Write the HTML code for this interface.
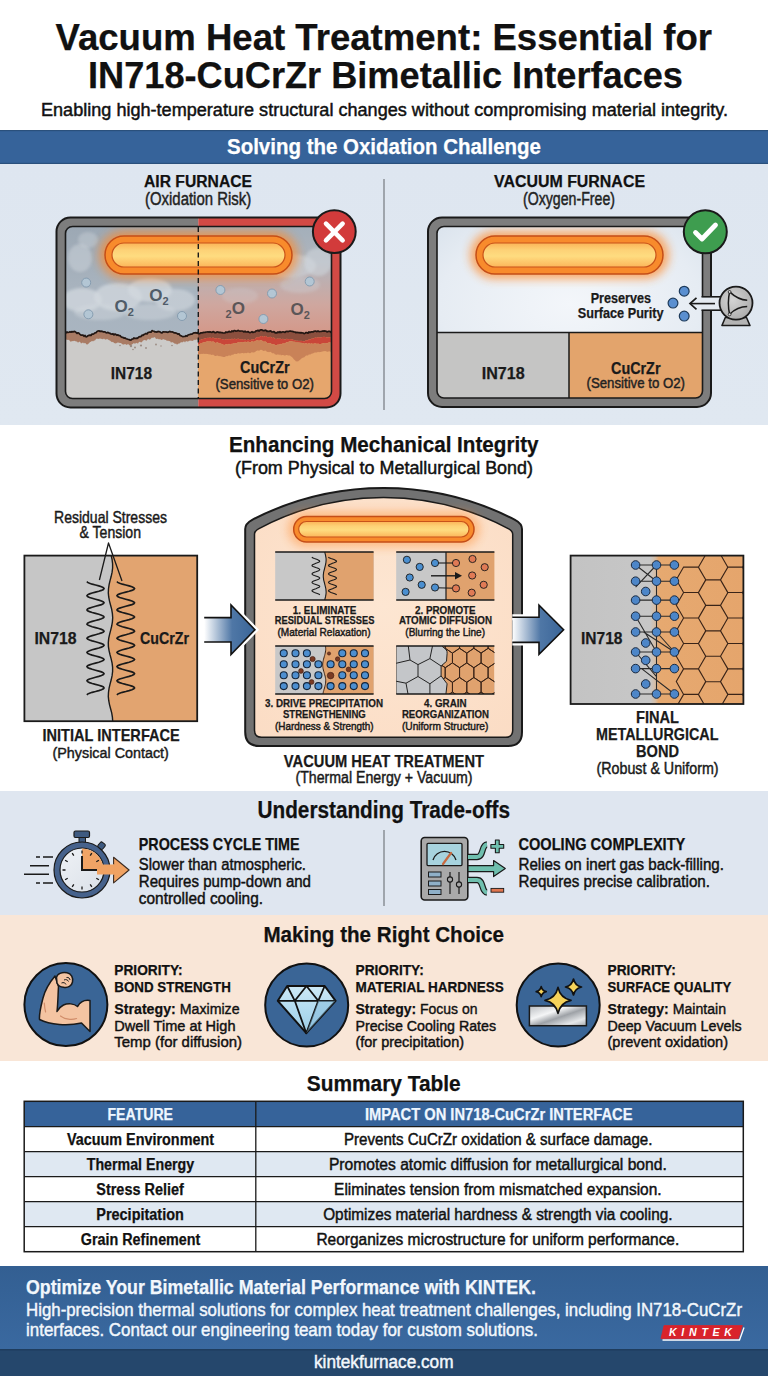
<!DOCTYPE html>
<html><head><meta charset="utf-8"><title>Vacuum Heat Treatment</title>
<style>html,body{margin:0;padding:0;background:#fff;}svg{display:block;}text{font-family:'Liberation Sans', sans-serif;}</style>
</head><body>
<svg width="768" height="1376" viewBox="0 0 768 1376">
<defs><linearGradient id="gS1" x1="0" y1="0" x2="0" y2="1"><stop offset="0" stop-color="#dee6f0"/><stop offset="1" stop-color="#e0e8f1"/></linearGradient><linearGradient id="gFoot" x1="0" y1="0" x2="0" y2="1"><stop offset="0" stop-color="#335f92"/><stop offset="1" stop-color="#3a69a0"/></linearGradient><filter id="blur6" x="-30%" y="-50%" width="160%" height="200%"><feGaussianBlur stdDeviation="5"/></filter><filter id="blur3" x="-30%" y="-50%" width="160%" height="200%"><feGaussianBlur stdDeviation="3"/></filter><filter id="blur2" x="-30%" y="-50%" width="160%" height="200%"><feGaussianBlur stdDeviation="1.5"/></filter><clipPath id="cpAirOuter"><rect x="56.5" y="217.5" width="284.0" height="190.0" rx="14"/></clipPath><clipPath id="cpAirIn"><rect x="65.5" y="226.5" width="266.0" height="172.0" rx="7"/></clipPath><linearGradient id="gAirL" x1="0" y1="0" x2="0" y2="1"><stop offset="0" stop-color="#9ca8b4"/><stop offset="0.5" stop-color="#a8b3be"/><stop offset="1" stop-color="#a9b5c1"/></linearGradient><linearGradient id="gAirR" x1="0" y1="0" x2="0" y2="1"><stop offset="0" stop-color="#a3afba"/><stop offset="0.3" stop-color="#b0b5bd"/><stop offset="0.65" stop-color="#cfa79f"/><stop offset="1" stop-color="#d6917f"/></linearGradient><linearGradient id="hga" x1="0" y1="0" x2="0" y2="1"><stop offset="0" stop-color="#fcb457"/><stop offset="0.3" stop-color="#fdd277"/><stop offset="0.55" stop-color="#fedc80"/><stop offset="1" stop-color="#fcb65a"/></linearGradient><radialGradient id="gVac" cx="0.5" cy="0.45" r="0.7"><stop offset="0" stop-color="#f3f6fa"/><stop offset="0.7" stop-color="#e6ecf3"/><stop offset="1" stop-color="#d9e2ec"/></radialGradient><clipPath id="cpVacIn"><rect x="437" y="226.5" width="265.5" height="171.5" rx="7"/></clipPath><linearGradient id="hgv" x1="0" y1="0" x2="0" y2="1"><stop offset="0" stop-color="#fcb457"/><stop offset="0.3" stop-color="#fdd277"/><stop offset="0.55" stop-color="#fedc80"/><stop offset="1" stop-color="#fcb65a"/></linearGradient><radialGradient id="gPump" cx="0.4" cy="0.4" r="0.7"><stop offset="0" stop-color="#d4d4d4"/><stop offset="1" stop-color="#a9a9a9"/></radialGradient><linearGradient id="gInitL" x1="0" y1="0" x2="1" y2="0"><stop offset="0" stop-color="#c3c3c3"/><stop offset="1" stop-color="#c9c9c9"/></linearGradient><radialGradient id="gCham" cx="0.5" cy="0.45" r="0.75"><stop offset="0" stop-color="#fde6d2"/><stop offset="1" stop-color="#fbdcc4"/></radialGradient><linearGradient id="hgc" x1="0" y1="0" x2="0" y2="1"><stop offset="0" stop-color="#fcb457"/><stop offset="0.3" stop-color="#fdd277"/><stop offset="0.55" stop-color="#fedc80"/><stop offset="1" stop-color="#fcb65a"/></linearGradient><clipPath id="cpP4"><rect x="396.2" y="646" width="98.19999999999999" height="48"/></clipPath><linearGradient id="gArr" x1="0" y1="0" x2="1" y2="0"><stop offset="0" stop-color="#ffffff"/><stop offset="0.55" stop-color="#4f77a6"/><stop offset="1" stop-color="#3a6598"/></linearGradient><linearGradient id="gFin" x1="0" y1="0" x2="1" y2="0"><stop offset="0" stop-color="#c3c3c3"/><stop offset="0.46" stop-color="#c7c7c7"/><stop offset="0.49" stop-color="#d6bea6"/><stop offset="0.51" stop-color="#e6a970"/><stop offset="1" stop-color="#e5a56c"/></linearGradient><clipPath id="cpFin"><rect x="570.6" y="555.6" width="172.79999999999995" height="148.39999999999998"/></clipPath><linearGradient id="gFinL" gradientUnits="userSpaceOnUse" x1="570.6" y1="0" x2="743.4" y2="0"><stop offset="0" stop-color="#c6c6c6"/><stop offset="0.42" stop-color="#c8c8c8"/><stop offset="0.52" stop-color="#dcb796"/><stop offset="0.6" stop-color="#e4a56d"/><stop offset="1" stop-color="#e3a46c"/></linearGradient><linearGradient id="gFace" x1="0" y1="0" x2="1" y2="1"><stop offset="0" stop-color="#f0f3f7"/><stop offset="1" stop-color="#d9dfe7"/></linearGradient><linearGradient id="gSwA" x1="0" y1="0" x2="1" y2="0"><stop offset="0" stop-color="#f2a662"/><stop offset="1" stop-color="#f0a060"/></linearGradient><linearGradient id="gDia" x1="0" y1="0" x2="0" y2="1"><stop offset="0" stop-color="#cde9f6"/><stop offset="0.5" stop-color="#b2dbef"/><stop offset="1" stop-color="#9dcde6"/></linearGradient><linearGradient id="gMetal" x1="0" y1="0" x2="1" y2="1"><stop offset="0" stop-color="#b9bcc0"/><stop offset="0.35" stop-color="#f4f5f6"/><stop offset="0.55" stop-color="#9ea2a7"/><stop offset="0.8" stop-color="#e6e8ea"/><stop offset="1" stop-color="#a8acb0"/></linearGradient></defs>
<rect x="0" y="0" width="768" height="1376" fill="#ffffff"/>
<rect x="0" y="130" width="768" height="34" fill="#36639a"/><rect x="0" y="130" width="768" height="1.2" fill="#2a507c"/><rect x="0" y="162.8" width="768" height="1.2" fill="#2a507c"/>
<rect x="0" y="164" width="768" height="261" fill="url(#gS1)"/>
<rect x="0" y="791" width="768" height="124" fill="#dfe6f0"/>
<rect x="0" y="915" width="768" height="146" fill="#f9e6d7"/>
<rect x="0" y="1266" width="768" height="83" fill="url(#gFoot)"/>
<rect x="0" y="1349" width="768" height="27" fill="#25476c"/><rect x="0" y="1349" width="768" height="1.5" fill="#1f3d5e"/>
<text x="55.5" y="49.5" font-size="36" font-weight="bold" fill="#111" stroke="#111" stroke-width="0.25" text-anchor="start" textLength="656.5" lengthAdjust="spacingAndGlyphs">Vacuum Heat Treatment: Essential for</text>
<text x="88.0" y="88.0" font-size="36" font-weight="bold" fill="#111" stroke="#111" stroke-width="0.25" text-anchor="start" textLength="595.0" lengthAdjust="spacingAndGlyphs">IN718-CuCrZr Bimetallic Interfaces</text>
<text x="41.0" y="115.5" font-size="17.5" font-weight="normal" fill="#111" stroke="#111" stroke-width="0.45" text-anchor="start" textLength="687.0" lengthAdjust="spacingAndGlyphs">Enabling high-temperature structural changes without compromising material integrity.</text>
<text x="227.0" y="154.0" font-size="21.8" font-weight="bold" fill="#ffffff" stroke="#ffffff" stroke-width="0.25" text-anchor="start" textLength="314.0" lengthAdjust="spacingAndGlyphs">Solving the Oxidation Challenge</text>
<text x="144.0" y="187.4" font-size="17.2" font-weight="bold" fill="#111" stroke="#111" stroke-width="0.25" text-anchor="start" textLength="108.0" lengthAdjust="spacingAndGlyphs">AIR FURNACE</text>
<text x="145.0" y="205.3" font-size="17.6" font-weight="normal" fill="#222" stroke="#222" stroke-width="0.45" text-anchor="start" textLength="106.2" lengthAdjust="spacingAndGlyphs">(Oxidation Risk)</text>
<text x="494.0" y="187.4" font-size="17.2" font-weight="bold" fill="#111" stroke="#111" stroke-width="0.25" text-anchor="start" textLength="151.0" lengthAdjust="spacingAndGlyphs">VACUUM FURNACE</text>
<text x="523.0" y="205.3" font-size="17.6" font-weight="normal" fill="#222" stroke="#222" stroke-width="0.45" text-anchor="start" textLength="92.0" lengthAdjust="spacingAndGlyphs">(Oxygen-Free)</text>
<line x1="384" y1="179" x2="384" y2="410" stroke="#8a8f96" stroke-width="1.5"/>
<g clip-path="url(#cpAirOuter)"><rect x="56.5" y="217.5" width="141.8" height="190.0" fill="#7d7d7d"/><rect x="198.3" y="217.5" width="142.2" height="190.0" fill="#d24a45"/></g>
<rect x="56.5" y="217.5" width="284.0" height="190.0" rx="14" fill="none" stroke="#1a1a1a" stroke-width="2"/>
<g clip-path="url(#cpAirIn)">
<rect x="65.5" y="226.5" width="132.8" height="120" fill="url(#gAirL)"/>
<rect x="198.3" y="226.5" width="133.2" height="120" fill="url(#gAirR)"/>
<ellipse cx="82" cy="300" rx="20" ry="12" fill="#d3d9df" opacity="0.75" filter="url(#blur2)"/>
<ellipse cx="118" cy="297" rx="24" ry="14" fill="#d3d9df" opacity="0.75" filter="url(#blur2)"/>
<ellipse cx="150" cy="290" rx="22" ry="12" fill="#d3d9df" opacity="0.75" filter="url(#blur2)"/>
<ellipse cx="175" cy="300" rx="20" ry="11" fill="#d3d9df" opacity="0.6000000000000001" filter="url(#blur2)"/>
<ellipse cx="100" cy="312" rx="26" ry="8" fill="#d3d9df" opacity="0.44999999999999996" filter="url(#blur2)"/>
<ellipse cx="150" cy="312" rx="26" ry="8" fill="#d3d9df" opacity="0.44999999999999996" filter="url(#blur2)"/>
<ellipse cx="80" cy="258" rx="12" ry="14" fill="#d3d9df" opacity="0.44999999999999996" filter="url(#blur2)"/>
<ellipse cx="88" cy="240" rx="10" ry="8" fill="#d3d9df" opacity="0.375" filter="url(#blur2)"/>
<ellipse cx="290" cy="266" rx="26" ry="12" fill="#d3d9df" opacity="0.5249999999999999" filter="url(#blur2)"/>
<ellipse cx="318" cy="262" rx="14" ry="14" fill="#d3d9df" opacity="0.5249999999999999" filter="url(#blur2)"/>
<ellipse cx="300" cy="285" rx="20" ry="8" fill="#d3d9df" opacity="0.30000000000000004" filter="url(#blur2)"/>
<ellipse cx="240" cy="296" rx="18" ry="8" fill="#d3d9df" opacity="0.22499999999999998" filter="url(#blur2)"/>
<path d="M64.0,333.5 L65.0,333.1 L66.0,333.8 L67.0,332.9 L68.0,333.5 L69.0,333.2 L70.0,332.7 L71.0,333.2 L72.0,332.5 L73.0,333.0 L74.0,332.4 L75.0,332.6 L76.0,333.4 L77.0,334.4 L78.0,333.8 L79.0,334.3 L80.0,335.3 L81.0,336.1 L82.0,336.0 L83.0,336.1 L84.0,337.3 L85.0,336.4 L86.0,337.9 L87.0,337.5 L88.0,336.8 L89.0,336.3 L90.0,336.1 L91.0,336.4 L92.0,335.0 L93.0,335.1 L94.0,334.7 L95.0,333.9 L96.0,333.7 L97.0,332.5 L98.0,332.0 L99.0,331.8 L100.0,332.4 L101.0,332.2 L102.0,332.3 L103.0,332.8 L104.0,332.8 L105.0,332.8 L106.0,333.7 L107.0,333.8 L108.0,333.4 L109.0,334.1 L110.0,334.3 L111.0,335.0 L112.0,335.1 L113.0,334.7 L114.0,335.9 L115.0,335.0 L116.0,335.6 L117.0,336.3 L118.0,335.9 L119.0,336.7 L120.0,336.5 L121.0,337.7 L122.0,338.3 L123.0,338.4 L124.0,339.2 L125.0,338.8 L126.0,339.7 L127.0,340.0 L128.0,340.3 L129.0,340.5 L130.0,341.1 L131.0,341.0 L132.0,340.1 L133.0,340.0 L134.0,338.9 L135.0,339.5 L136.0,339.2 L137.0,339.4 L138.0,338.8 L139.0,337.8 L140.0,337.7 L141.0,337.6 L142.0,336.2 L143.0,336.4 L144.0,335.5 L145.0,335.0 L146.0,334.4 L147.0,334.9 L148.0,333.6 L149.0,333.3 L150.0,333.0 L151.0,333.2 L152.0,331.6 L153.0,332.0 L154.0,332.3 L155.0,332.9 L156.0,332.9 L157.0,333.1 L158.0,332.4 L159.0,332.7 L160.0,332.8 L161.0,333.7 L162.0,333.9 L163.0,332.9 L164.0,332.9 L165.0,333.0 L166.0,332.9 L167.0,333.2 L168.0,333.3 L169.0,332.8 L170.0,332.4 L171.0,333.0 L172.0,332.9 L173.0,333.1 L174.0,333.8 L175.0,333.8 L176.0,334.1 L177.0,334.6 L178.0,335.2 L179.0,334.8 L180.0,336.4 L181.0,336.7 L182.0,337.2 L183.0,337.6 L184.0,337.5 L185.0,337.5 L186.0,336.7 L187.0,337.1 L188.0,336.0 L189.0,335.7 L190.0,335.5 L191.0,335.1 L192.0,335.1 L193.0,334.3 L194.0,333.9 L195.0,333.8 L196.0,333.7 L197.0,334.1 L198.0,333.6 L199.0,334.8 L199,400 L64,400 Z" fill="#cccbc9"/>
<path d="M64.0,332.5 L65.0,332.1 L66.0,332.8 L67.0,331.9 L68.0,332.5 L69.0,332.2 L70.0,331.7 L71.0,332.2 L72.0,331.5 L73.0,332.0 L74.0,331.4 L75.0,331.6 L76.0,332.4 L77.0,333.4 L78.0,332.8 L79.0,333.3 L80.0,334.3 L81.0,335.1 L82.0,335.0 L83.0,335.1 L84.0,336.3 L85.0,335.4 L86.0,336.9 L87.0,336.5 L88.0,335.8 L89.0,335.3 L90.0,335.1 L91.0,335.4 L92.0,334.0 L93.0,334.1 L94.0,333.7 L95.0,332.9 L96.0,332.7 L97.0,331.5 L98.0,331.0 L99.0,330.8 L100.0,331.4 L101.0,331.2 L102.0,331.3 L103.0,331.8 L104.0,331.8 L105.0,331.8 L106.0,332.7 L107.0,332.8 L108.0,332.4 L109.0,333.1 L110.0,333.3 L111.0,334.0 L112.0,334.1 L113.0,333.7 L114.0,334.9 L115.0,334.0 L116.0,334.6 L117.0,335.3 L118.0,334.9 L119.0,335.7 L120.0,335.5 L121.0,336.7 L122.0,337.3 L123.0,337.4 L124.0,338.2 L125.0,337.8 L126.0,338.7 L127.0,339.0 L128.0,339.3 L129.0,339.5 L130.0,340.1 L131.0,340.0 L132.0,339.1 L133.0,339.0 L134.0,337.9 L135.0,338.5 L136.0,338.2 L137.0,338.4 L138.0,337.8 L139.0,336.8 L140.0,336.7 L141.0,336.6 L142.0,335.2 L143.0,335.4 L144.0,334.5 L145.0,334.0 L146.0,333.4 L147.0,333.9 L148.0,332.6 L149.0,332.3 L150.0,332.0 L151.0,332.2 L152.0,330.6 L153.0,331.0 L154.0,331.3 L155.0,331.9 L156.0,331.9 L157.0,332.1 L158.0,331.4 L159.0,331.7 L160.0,331.8 L161.0,332.7 L162.0,332.9 L163.0,331.9 L164.0,331.9 L165.0,332.0 L166.0,331.9 L167.0,332.2 L168.0,332.3 L169.0,331.8 L170.0,331.4 L171.0,332.0 L172.0,331.9 L173.0,332.1 L174.0,332.8 L175.0,332.8 L176.0,333.1 L177.0,333.6 L178.0,334.2 L179.0,333.8 L180.0,335.4 L181.0,335.7 L182.0,336.2 L183.0,336.6 L184.0,336.5 L185.0,336.5 L186.0,335.7 L187.0,336.1 L188.0,335.0 L189.0,334.7 L190.0,334.5 L191.0,334.1 L192.0,334.1 L193.0,333.3 L194.0,332.9 L195.0,332.8 L196.0,332.7 L197.0,333.1 L198.0,332.6 L199.0,333.8 L199.0,339.5 L198.0,340.1 L197.0,339.4 L196.0,339.5 L195.0,340.2 L194.0,339.6 L193.0,340.9 L192.0,340.7 L191.0,340.8 L190.0,340.6 L189.0,341.1 L188.0,341.6 L187.0,341.4 L186.0,341.1 L185.0,342.5 L184.0,341.3 L183.0,341.9 L182.0,342.6 L181.0,342.1 L180.0,343.2 L179.0,343.5 L178.0,343.7 L177.0,344.7 L176.0,343.4 L175.0,344.0 L174.0,343.1 L173.0,342.6 L172.0,342.1 L171.0,342.8 L170.0,341.0 L169.0,341.2 L168.0,340.6 L167.0,340.9 L166.0,340.0 L165.0,339.8 L164.0,339.4 L163.0,339.0 L162.0,339.9 L161.0,339.8 L160.0,338.9 L159.0,339.6 L158.0,338.7 L157.0,338.7 L156.0,339.1 L155.0,337.3 L154.0,337.3 L153.0,337.9 L152.0,337.6 L151.0,338.5 L150.0,339.5 L149.0,339.6 L148.0,338.7 L147.0,340.3 L146.0,340.8 L145.0,339.8 L144.0,340.2 L143.0,340.6 L142.0,341.9 L141.0,342.5 L140.0,341.8 L139.0,342.1 L138.0,343.4 L137.0,343.3 L136.0,342.8 L135.0,343.9 L134.0,343.0 L133.0,343.8 L132.0,344.6 L131.0,344.9 L130.0,345.4 L129.0,345.0 L128.0,343.8 L127.0,345.0 L126.0,344.6 L125.0,344.1 L124.0,344.6 L123.0,344.6 L122.0,343.9 L121.0,343.0 L120.0,342.9 L119.0,342.8 L118.0,342.6 L117.0,342.8 L116.0,343.5 L115.0,343.3 L114.0,342.9 L113.0,341.7 L112.0,342.3 L111.0,341.5 L110.0,340.5 L109.0,340.2 L108.0,339.4 L107.0,339.1 L106.0,339.4 L105.0,339.4 L104.0,338.6 L103.0,339.2 L102.0,339.1 L101.0,338.7 L100.0,338.5 L99.0,338.8 L98.0,339.0 L97.0,338.4 L96.0,339.1 L95.0,340.4 L94.0,340.5 L93.0,341.4 L92.0,340.8 L91.0,341.7 L90.0,342.0 L89.0,343.3 L88.0,344.1 L87.0,344.8 L86.0,343.8 L85.0,342.7 L84.0,343.4 L83.0,342.5 L82.0,343.0 L81.0,343.6 L80.0,341.7 L79.0,341.8 L78.0,342.8 L77.0,341.6 L76.0,341.5 L75.0,340.9 L74.0,340.7 L73.0,341.2 L72.0,341.0 L71.0,341.7 L70.0,341.3 L69.0,339.8 L68.0,340.0 L67.0,339.8 L66.0,339.4 L65.0,339.1 L64.0,339.7 Z" fill="#a97b64"/>
<circle cx="131" cy="346" r="1.2" fill="#8d7a70" opacity="0.8"/>
<circle cx="135" cy="347.5" r="1" fill="#8d7a70" opacity="0.8"/>
<circle cx="141" cy="345.5" r="1.1" fill="#8d7a70" opacity="0.8"/>
<circle cx="146" cy="348" r="0.9" fill="#8d7a70" opacity="0.8"/>
<circle cx="133" cy="349.5" r="0.8" fill="#8d7a70" opacity="0.8"/>
<circle cx="120" cy="345.5" r="0.8" fill="#8d7a70" opacity="0.8"/>
<circle cx="156" cy="344.5" r="0.9" fill="#8d7a70" opacity="0.8"/>
<circle cx="161" cy="346" r="0.7" fill="#8d7a70" opacity="0.8"/>
<circle cx="172" cy="345.5" r="0.8" fill="#8d7a70" opacity="0.8"/>
<path d="M198.0,334.4 L199.0,334.5 L200.0,334.5 L201.0,333.8 L202.0,333.8 L203.0,333.6 L204.0,333.4 L205.0,333.5 L206.0,333.0 L207.0,333.0 L208.0,332.8 L209.0,333.2 L210.0,332.7 L211.0,333.1 L212.0,333.3 L213.0,332.6 L214.0,333.1 L215.0,333.7 L216.0,333.7 L217.0,332.9 L218.0,333.0 L219.0,333.6 L220.0,333.2 L221.0,333.6 L222.0,333.5 L223.0,334.0 L224.0,334.0 L225.0,333.9 L226.0,332.9 L227.0,333.4 L228.0,333.1 L229.0,332.3 L230.0,333.0 L231.0,333.0 L232.0,331.9 L233.0,332.6 L234.0,331.7 L235.0,331.7 L236.0,332.1 L237.0,332.0 L238.0,331.4 L239.0,331.8 L240.0,332.1 L241.0,332.0 L242.0,332.0 L243.0,332.3 L244.0,332.9 L245.0,332.2 L246.0,333.0 L247.0,333.0 L248.0,332.6 L249.0,333.2 L250.0,333.6 L251.0,333.3 L252.0,332.6 L253.0,333.5 L254.0,333.0 L255.0,333.0 L256.0,331.8 L257.0,331.8 L258.0,331.3 L259.0,332.0 L260.0,331.1 L261.0,330.8 L262.0,330.9 L263.0,331.7 L264.0,331.7 L265.0,331.2 L266.0,331.3 L267.0,332.4 L268.0,332.2 L269.0,332.5 L270.0,331.9 L271.0,332.1 L272.0,333.0 L273.0,332.9 L274.0,332.6 L275.0,333.8 L276.0,333.7 L277.0,333.8 L278.0,332.9 L279.0,333.7 L280.0,332.7 L281.0,333.6 L282.0,333.0 L283.0,332.8 L284.0,333.0 L285.0,333.4 L286.0,332.5 L287.0,332.3 L288.0,332.7 L289.0,332.3 L290.0,332.0 L291.0,332.2 L292.0,332.3 L293.0,332.6 L294.0,332.9 L295.0,333.0 L296.0,333.7 L297.0,333.3 L298.0,333.7 L299.0,333.5 L300.0,333.9 L301.0,333.6 L302.0,334.0 L303.0,333.9 L304.0,334.6 L305.0,334.2 L306.0,333.6 L307.0,333.7 L308.0,334.1 L309.0,332.9 L310.0,333.5 L311.0,332.9 L312.0,332.8 L313.0,333.0 L314.0,332.3 L315.0,332.2 L316.0,332.2 L317.0,332.6 L318.0,331.9 L319.0,332.6 L320.0,332.5 L321.0,332.5 L322.0,332.2 L323.0,332.2 L324.0,331.9 L325.0,332.1 L326.0,332.1 L327.0,332.9 L328.0,332.4 L329.0,332.4 L330.0,332.3 L331.0,333.3 L332.0,333.4 L333.0,333.2 L334,400 L198,400 Z" fill="#e6a66d"/>
<path d="M198.0,333.4 L199.0,333.5 L200.0,333.5 L201.0,332.8 L202.0,332.8 L203.0,332.6 L204.0,332.4 L205.0,332.5 L206.0,332.0 L207.0,332.0 L208.0,331.8 L209.0,332.2 L210.0,331.7 L211.0,332.1 L212.0,332.3 L213.0,331.6 L214.0,332.1 L215.0,332.7 L216.0,332.7 L217.0,331.9 L218.0,332.0 L219.0,332.6 L220.0,332.2 L221.0,332.6 L222.0,332.5 L223.0,333.0 L224.0,333.0 L225.0,332.9 L226.0,331.9 L227.0,332.4 L228.0,332.1 L229.0,331.3 L230.0,332.0 L231.0,332.0 L232.0,330.9 L233.0,331.6 L234.0,330.7 L235.0,330.7 L236.0,331.1 L237.0,331.0 L238.0,330.4 L239.0,330.8 L240.0,331.1 L241.0,331.0 L242.0,331.0 L243.0,331.3 L244.0,331.9 L245.0,331.2 L246.0,332.0 L247.0,332.0 L248.0,331.6 L249.0,332.2 L250.0,332.6 L251.0,332.3 L252.0,331.6 L253.0,332.5 L254.0,332.0 L255.0,332.0 L256.0,330.8 L257.0,330.8 L258.0,330.3 L259.0,331.0 L260.0,330.1 L261.0,329.8 L262.0,329.9 L263.0,330.7 L264.0,330.7 L265.0,330.2 L266.0,330.3 L267.0,331.4 L268.0,331.2 L269.0,331.5 L270.0,330.9 L271.0,331.1 L272.0,332.0 L273.0,331.9 L274.0,331.6 L275.0,332.8 L276.0,332.7 L277.0,332.8 L278.0,331.9 L279.0,332.7 L280.0,331.7 L281.0,332.6 L282.0,332.0 L283.0,331.8 L284.0,332.0 L285.0,332.4 L286.0,331.5 L287.0,331.3 L288.0,331.7 L289.0,331.3 L290.0,331.0 L291.0,331.2 L292.0,331.3 L293.0,331.6 L294.0,331.9 L295.0,332.0 L296.0,332.7 L297.0,332.3 L298.0,332.7 L299.0,332.5 L300.0,332.9 L301.0,332.6 L302.0,333.0 L303.0,332.9 L304.0,333.6 L305.0,333.2 L306.0,332.6 L307.0,332.7 L308.0,333.1 L309.0,331.9 L310.0,332.5 L311.0,331.9 L312.0,331.8 L313.0,332.0 L314.0,331.3 L315.0,331.2 L316.0,331.2 L317.0,331.6 L318.0,330.9 L319.0,331.6 L320.0,331.5 L321.0,331.5 L322.0,331.2 L323.0,331.2 L324.0,330.9 L325.0,331.1 L326.0,331.1 L327.0,331.9 L328.0,331.4 L329.0,331.4 L330.0,331.3 L331.0,332.3 L332.0,332.4 L333.0,332.2 L333.0,338.4 L332.0,338.5 L331.0,338.3 L330.0,337.3 L329.0,337.3 L328.0,337.3 L327.0,337.8 L326.0,336.9 L325.0,336.9 L324.0,336.7 L323.0,337.1 L322.0,337.1 L321.0,337.4 L320.0,337.5 L319.0,337.6 L318.0,337.1 L317.0,337.9 L316.0,337.6 L315.0,337.7 L314.0,337.9 L313.0,338.7 L312.0,338.6 L311.0,338.9 L310.0,339.7 L309.0,339.1 L308.0,340.5 L307.0,340.2 L306.0,340.2 L305.0,340.9 L304.0,341.4 L303.0,340.9 L302.0,341.1 L301.0,340.7 L300.0,341.0 L299.0,340.7 L298.0,340.9 L297.0,340.5 L296.0,340.9 L295.0,340.2 L294.0,340.0 L293.0,339.7 L292.0,339.3 L291.0,339.2 L290.0,338.9 L289.0,339.0 L288.0,339.3 L287.0,338.8 L286.0,338.9 L285.0,339.7 L284.0,339.2 L283.0,338.8 L282.0,338.9 L281.0,339.3 L280.0,338.3 L279.0,339.2 L278.0,338.3 L277.0,339.1 L276.0,338.8 L275.0,338.9 L274.0,337.6 L273.0,337.8 L272.0,337.9 L271.0,336.9 L270.0,336.8 L269.0,337.3 L268.0,337.0 L267.0,337.2 L266.0,336.1 L265.0,336.1 L264.0,336.7 L263.0,336.7 L262.0,336.0 L261.0,336.0 L260.0,336.4 L259.0,337.4 L258.0,336.8 L257.0,337.4 L256.0,337.6 L255.0,339.0 L254.0,339.1 L253.0,339.7 L252.0,338.9 L251.0,339.8 L250.0,340.2 L249.0,339.8 L248.0,339.4 L247.0,339.9 L246.0,340.0 L245.0,339.3 L244.0,340.0 L243.0,339.4 L242.0,339.2 L241.0,339.2 L240.0,339.3 L239.0,339.0 L238.0,338.5 L237.0,339.2 L236.0,339.2 L235.0,338.7 L234.0,338.7 L233.0,339.4 L232.0,338.6 L231.0,339.6 L230.0,339.5 L229.0,338.7 L228.0,339.4 L227.0,339.5 L226.0,338.8 L225.0,339.8 L224.0,339.7 L223.0,339.6 L222.0,338.9 L221.0,338.9 L220.0,338.5 L219.0,338.7 L218.0,338.1 L217.0,337.9 L216.0,338.6 L215.0,338.5 L214.0,337.9 L213.0,337.4 L212.0,338.1 L211.0,337.9 L210.0,337.6 L209.0,338.0 L208.0,337.7 L207.0,338.0 L206.0,338.1 L205.0,338.6 L204.0,338.7 L203.0,338.9 L202.0,339.3 L201.0,339.4 L200.0,340.2 L199.0,340.3 L198.0,340.4 Z" fill="#8b4f3e"/>
<path d="M198.0,340.4 L199.0,340.3 L200.0,340.2 L201.0,339.4 L202.0,339.3 L203.0,338.9 L204.0,338.7 L205.0,338.6 L206.0,338.1 L207.0,338.0 L208.0,337.7 L209.0,338.0 L210.0,337.6 L211.0,337.9 L212.0,338.1 L213.0,337.4 L214.0,337.9 L215.0,338.5 L216.0,338.6 L217.0,337.9 L218.0,338.1 L219.0,338.7 L220.0,338.5 L221.0,338.9 L222.0,338.9 L223.0,339.6 L224.0,339.7 L225.0,339.8 L226.0,338.8 L227.0,339.5 L228.0,339.4 L229.0,338.7 L230.0,339.5 L231.0,339.6 L232.0,338.6 L233.0,339.4 L234.0,338.7 L235.0,338.7 L236.0,339.2 L237.0,339.2 L238.0,338.5 L239.0,339.0 L240.0,339.3 L241.0,339.2 L242.0,339.2 L243.0,339.4 L244.0,340.0 L245.0,339.3 L246.0,340.0 L247.0,339.9 L248.0,339.4 L249.0,339.8 L250.0,340.2 L251.0,339.8 L252.0,338.9 L253.0,339.7 L254.0,339.1 L255.0,339.0 L256.0,337.6 L257.0,337.4 L258.0,336.8 L259.0,337.4 L260.0,336.4 L261.0,336.0 L262.0,336.0 L263.0,336.7 L264.0,336.7 L265.0,336.1 L266.0,336.1 L267.0,337.2 L268.0,337.0 L269.0,337.3 L270.0,336.8 L271.0,336.9 L272.0,337.9 L273.0,337.8 L274.0,337.6 L275.0,338.9 L276.0,338.8 L277.0,339.1 L278.0,338.3 L279.0,339.2 L280.0,338.3 L281.0,339.3 L282.0,338.9 L283.0,338.8 L284.0,339.2 L285.0,339.7 L286.0,338.9 L287.0,338.8 L288.0,339.3 L289.0,339.0 L290.0,338.9 L291.0,339.2 L292.0,339.3 L293.0,339.7 L294.0,340.0 L295.0,340.2 L296.0,340.9 L297.0,340.5 L298.0,340.9 L299.0,340.7 L300.0,341.0 L301.0,340.7 L302.0,341.1 L303.0,340.9 L304.0,341.4 L305.0,340.9 L306.0,340.2 L307.0,340.2 L308.0,340.5 L309.0,339.1 L310.0,339.7 L311.0,338.9 L312.0,338.6 L313.0,338.7 L314.0,337.9 L315.0,337.7 L316.0,337.6 L317.0,337.9 L318.0,337.1 L319.0,337.6 L320.0,337.5 L321.0,337.4 L322.0,337.1 L323.0,337.1 L324.0,336.7 L325.0,336.9 L326.0,336.9 L327.0,337.8 L328.0,337.3 L329.0,337.3 L330.0,337.3 L331.0,338.3 L332.0,338.5 L333.0,338.4 L333.0,342.6 L332.0,342.9 L331.0,343.1 L330.0,342.3 L329.0,342.5 L328.0,342.8 L327.0,343.5 L326.0,342.9 L325.0,343.0 L324.0,343.1 L323.0,343.5 L322.0,343.6 L321.0,343.9 L320.0,344.0 L319.0,344.1 L318.0,343.4 L317.0,344.1 L316.0,343.6 L315.0,343.5 L314.0,343.4 L313.0,344.0 L312.0,343.6 L311.0,343.5 L310.0,344.0 L309.0,343.1 L308.0,344.1 L307.0,343.5 L306.0,343.2 L305.0,343.6 L304.0,343.8 L303.0,343.0 L302.0,342.9 L301.0,346.4 L300.0,346.5 L299.0,346.1 L298.0,346.3 L297.0,345.8 L296.0,346.2 L295.0,345.6 L294.0,345.5 L293.0,345.3 L292.0,341.1 L291.0,341.2 L290.0,341.2 L289.0,341.6 L288.0,342.2 L287.0,342.0 L286.0,342.5 L285.0,343.6 L284.0,343.4 L283.0,343.4 L282.0,343.8 L281.0,344.5 L280.0,343.8 L279.0,345.0 L278.0,344.2 L277.0,345.2 L276.0,345.1 L275.0,345.3 L274.0,344.1 L273.0,344.3 L272.0,344.4 L271.0,343.4 L270.0,343.1 L269.0,343.5 L268.0,343.0 L267.0,343.0 L266.0,341.7 L265.0,341.5 L264.0,341.8 L263.0,341.5 L262.0,340.5 L261.0,340.2 L260.0,340.3 L259.0,341.0 L258.0,340.2 L257.0,340.5 L256.0,340.4 L255.0,341.6 L254.0,341.5 L253.0,342.0 L252.0,341.1 L251.0,341.9 L250.0,342.3 L249.0,341.9 L248.0,341.5 L247.0,342.0 L246.0,342.2 L245.0,341.6 L244.0,342.5 L243.0,342.0 L242.0,342.0 L241.0,342.2 L240.0,342.5 L239.0,342.5 L238.0,342.2 L237.0,343.0 L236.0,343.2 L235.0,342.9 L234.0,343.1 L233.0,344.0 L232.0,343.4 L231.0,344.5 L230.0,344.5 L229.0,343.8 L228.0,344.5 L227.0,344.6 L226.0,344.0 L225.0,344.9 L224.0,344.8 L223.0,344.7 L222.0,343.9 L221.0,343.8 L220.0,343.3 L219.0,343.4 L218.0,342.6 L217.0,342.3 L216.0,342.9 L215.0,342.7 L214.0,341.9 L213.0,341.3 L212.0,341.9 L211.0,341.6 L210.0,341.3 L209.0,341.7 L208.0,341.3 L207.0,341.5 L206.0,341.7 L205.0,342.2 L204.0,342.3 L203.0,342.6 L202.0,343.0 L201.0,343.1 L200.0,344.1 L199.0,344.2 L198.0,344.4 Z" fill="#c94639"/>
<path d="M198.0,344.4 L199.0,344.2 L200.0,344.1 L201.0,343.1 L202.0,343.0 L203.0,342.6 L204.0,342.3 L205.0,342.2 L206.0,341.7 L207.0,341.5 L208.0,341.3 L209.0,341.7 L210.0,341.3 L211.0,341.6 L212.0,341.9 L213.0,341.3 L214.0,341.9 L215.0,342.7 L216.0,342.9 L217.0,342.3 L218.0,342.6 L219.0,343.4 L220.0,343.3 L221.0,343.8 L222.0,343.9 L223.0,344.7 L224.0,344.8 L225.0,344.9 L226.0,344.0 L227.0,344.6 L228.0,344.5 L229.0,343.8 L230.0,344.5 L231.0,344.5 L232.0,343.4 L233.0,344.0 L234.0,343.1 L235.0,342.9 L236.0,343.2 L237.0,343.0 L238.0,342.2 L239.0,342.5 L240.0,342.5 L241.0,342.2 L242.0,342.0 L243.0,342.0 L244.0,342.5 L245.0,341.6 L246.0,342.2 L247.0,342.0 L248.0,341.5 L249.0,341.9 L250.0,342.3 L251.0,341.9 L252.0,341.1 L253.0,342.0 L254.0,341.5 L255.0,341.6 L256.0,340.4 L257.0,340.5 L258.0,340.2 L259.0,341.0 L260.0,340.3 L261.0,340.2 L262.0,340.5 L263.0,341.5 L264.0,341.8 L265.0,341.5 L266.0,341.7 L267.0,343.0 L268.0,343.0 L269.0,343.5 L270.0,343.1 L271.0,343.4 L272.0,344.4 L273.0,344.3 L274.0,344.1 L275.0,345.3 L276.0,345.1 L277.0,345.2 L278.0,344.2 L279.0,345.0 L280.0,343.8 L281.0,344.5 L282.0,343.8 L283.0,343.4 L284.0,343.4 L285.0,343.6 L286.0,342.5 L287.0,342.0 L288.0,342.2 L289.0,341.6 L290.0,341.2 L291.0,341.2 L292.0,341.1 L293.0,341.3 L294.0,341.5 L295.0,341.6 L296.0,342.2 L297.0,341.8 L298.0,342.3 L299.0,342.1 L300.0,342.5 L301.0,342.4 L302.0,342.9 L303.0,343.0 L304.0,343.8 L305.0,343.6 L306.0,343.2 L307.0,343.5 L308.0,344.1 L309.0,343.1 L310.0,344.0 L311.0,343.5 L312.0,343.6 L313.0,344.0 L314.0,343.4 L315.0,343.5 L316.0,343.6 L317.0,344.1 L318.0,343.4 L319.0,344.1 L320.0,344.0 L321.0,343.9 L322.0,343.6 L323.0,343.5 L324.0,343.1 L325.0,343.0 L326.0,342.9 L327.0,343.5 L328.0,342.8 L329.0,342.5 L330.0,342.3 L331.0,343.1 L332.0,342.9 L333.0,342.6 L333.0,352.4 L332.0,352.5 L331.0,352.4 L330.0,351.3 L329.0,351.4 L328.0,351.4 L327.0,352.0 L326.0,351.1 L325.0,351.2 L324.0,351.1 L323.0,351.5 L322.0,351.6 L321.0,351.9 L320.0,352.0 L319.0,352.2 L318.0,351.7 L317.0,352.6 L316.0,352.4 L315.0,352.5 L314.0,352.7 L313.0,353.6 L312.0,353.6 L311.0,353.9 L310.0,354.7 L309.0,354.3 L308.0,355.6 L307.0,355.5 L306.0,355.6 L305.0,356.6 L304.0,357.5 L303.0,357.4 L302.0,358.3 L301.0,358.8 L300.0,360.0 L299.0,360.5 L298.0,361.4 L297.0,361.2 L296.0,361.5 L295.0,360.3 L294.0,359.4 L293.0,358.2 L292.0,357.1 L291.0,356.4 L290.0,355.6 L289.0,355.5 L288.0,355.6 L287.0,355.0 L286.0,355.1 L285.0,355.8 L284.0,355.3 L283.0,354.9 L282.0,355.0 L281.0,355.4 L280.0,354.3 L279.0,355.2 L278.0,354.1 L277.0,354.9 L276.0,354.6 L275.0,354.6 L274.0,353.2 L273.0,353.3 L272.0,353.2 L271.0,352.1 L270.0,351.8 L269.0,352.2 L268.0,351.8 L267.0,351.9 L266.0,350.7 L265.0,350.5 L264.0,350.9 L263.0,350.8 L262.0,350.0 L261.0,349.8 L260.0,350.1 L259.0,351.0 L258.0,350.3 L257.0,350.8 L256.0,350.9 L255.0,352.2 L254.0,352.2 L253.0,352.8 L252.0,352.0 L251.0,352.8 L250.0,353.3 L249.0,353.0 L248.0,352.6 L247.0,353.1 L246.0,353.3 L245.0,352.7 L244.0,353.5 L243.0,353.1 L242.0,353.0 L241.0,353.2 L240.0,353.4 L239.0,353.4 L238.0,353.1 L237.0,353.9 L236.0,354.1 L235.0,353.8 L234.0,354.1 L233.0,355.0 L232.0,354.4 L231.0,355.6 L230.0,355.8 L229.0,355.2 L228.0,356.0 L227.0,356.3 L226.0,355.9 L225.0,356.9 L224.0,357.0 L223.0,357.0 L222.0,356.4 L221.0,356.5 L220.0,356.1 L219.0,356.3 L218.0,355.7 L217.0,355.5 L216.0,356.1 L215.0,355.9 L214.0,355.2 L213.0,354.6 L212.0,355.1 L211.0,354.7 L210.0,354.2 L209.0,354.5 L208.0,353.9 L207.0,353.9 L206.0,353.8 L205.0,354.1 L204.0,353.8 L203.0,353.8 L202.0,353.9 L201.0,353.7 L200.0,354.3 L199.0,354.1 L198.0,353.9 Z" fill="#c98258"/>
<path d="M64.0,332.5 L65.0,332.1 L66.0,332.8 L67.0,331.9 L68.0,332.5 L69.0,332.2 L70.0,331.7 L71.0,332.2 L72.0,331.5 L73.0,332.0 L74.0,331.4 L75.0,331.6 L76.0,332.4 L77.0,333.4 L78.0,332.8 L79.0,333.3 L80.0,334.3 L81.0,335.1 L82.0,335.0 L83.0,335.1 L84.0,336.3 L85.0,335.4 L86.0,336.9 L87.0,336.5 L88.0,335.8 L89.0,335.3 L90.0,335.1 L91.0,335.4 L92.0,334.0 L93.0,334.1 L94.0,333.7 L95.0,332.9 L96.0,332.7 L97.0,331.5 L98.0,331.0 L99.0,330.8 L100.0,331.4 L101.0,331.2 L102.0,331.3 L103.0,331.8 L104.0,331.8 L105.0,331.8 L106.0,332.7 L107.0,332.8 L108.0,332.4 L109.0,333.1 L110.0,333.3 L111.0,334.0 L112.0,334.1 L113.0,333.7 L114.0,334.9 L115.0,334.0 L116.0,334.6 L117.0,335.3 L118.0,334.9 L119.0,335.7 L120.0,335.5 L121.0,336.7 L122.0,337.3 L123.0,337.4 L124.0,338.2 L125.0,337.8 L126.0,338.7 L127.0,339.0 L128.0,339.3 L129.0,339.5 L130.0,340.1 L131.0,340.0 L132.0,339.1 L133.0,339.0 L134.0,337.9 L135.0,338.5 L136.0,338.2 L137.0,338.4 L138.0,337.8 L139.0,336.8 L140.0,336.7 L141.0,336.6 L142.0,335.2 L143.0,335.4 L144.0,334.5 L145.0,334.0 L146.0,333.4 L147.0,333.9 L148.0,332.6 L149.0,332.3 L150.0,332.0 L151.0,332.2 L152.0,330.6 L153.0,331.0 L154.0,331.3 L155.0,331.9 L156.0,331.9 L157.0,332.1 L158.0,331.4 L159.0,331.7 L160.0,331.8 L161.0,332.7 L162.0,332.9 L163.0,331.9 L164.0,331.9 L165.0,332.0 L166.0,331.9 L167.0,332.2 L168.0,332.3 L169.0,331.8 L170.0,331.4 L171.0,332.0 L172.0,331.9 L173.0,332.1 L174.0,332.8 L175.0,332.8 L176.0,333.1 L177.0,333.6 L178.0,334.2 L179.0,333.8 L180.0,335.4 L181.0,335.7 L182.0,336.2 L183.0,336.6 L184.0,336.5 L185.0,336.5 L186.0,335.7 L187.0,336.1 L188.0,335.0 L189.0,334.7 L190.0,334.5 L191.0,334.1 L192.0,334.1 L193.0,333.3 L194.0,332.9 L195.0,332.8 L196.0,332.7 L197.0,333.1 L198.0,332.6 L199.0,333.8 L198.0,333.4 L199.0,333.5 L200.0,333.5 L201.0,332.8 L202.0,332.8 L203.0,332.6 L204.0,332.4 L205.0,332.5 L206.0,332.0 L207.0,332.0 L208.0,331.8 L209.0,332.2 L210.0,331.7 L211.0,332.1 L212.0,332.3 L213.0,331.6 L214.0,332.1 L215.0,332.7 L216.0,332.7 L217.0,331.9 L218.0,332.0 L219.0,332.6 L220.0,332.2 L221.0,332.6 L222.0,332.5 L223.0,333.0 L224.0,333.0 L225.0,332.9 L226.0,331.9 L227.0,332.4 L228.0,332.1 L229.0,331.3 L230.0,332.0 L231.0,332.0 L232.0,330.9 L233.0,331.6 L234.0,330.7 L235.0,330.7 L236.0,331.1 L237.0,331.0 L238.0,330.4 L239.0,330.8 L240.0,331.1 L241.0,331.0 L242.0,331.0 L243.0,331.3 L244.0,331.9 L245.0,331.2 L246.0,332.0 L247.0,332.0 L248.0,331.6 L249.0,332.2 L250.0,332.6 L251.0,332.3 L252.0,331.6 L253.0,332.5 L254.0,332.0 L255.0,332.0 L256.0,330.8 L257.0,330.8 L258.0,330.3 L259.0,331.0 L260.0,330.1 L261.0,329.8 L262.0,329.9 L263.0,330.7 L264.0,330.7 L265.0,330.2 L266.0,330.3 L267.0,331.4 L268.0,331.2 L269.0,331.5 L270.0,330.9 L271.0,331.1 L272.0,332.0 L273.0,331.9 L274.0,331.6 L275.0,332.8 L276.0,332.7 L277.0,332.8 L278.0,331.9 L279.0,332.7 L280.0,331.7 L281.0,332.6 L282.0,332.0 L283.0,331.8 L284.0,332.0 L285.0,332.4 L286.0,331.5 L287.0,331.3 L288.0,331.7 L289.0,331.3 L290.0,331.0 L291.0,331.2 L292.0,331.3 L293.0,331.6 L294.0,331.9 L295.0,332.0 L296.0,332.7 L297.0,332.3 L298.0,332.7 L299.0,332.5 L300.0,332.9 L301.0,332.6 L302.0,333.0 L303.0,332.9 L304.0,333.6 L305.0,333.2 L306.0,332.6 L307.0,332.7 L308.0,333.1 L309.0,331.9 L310.0,332.5 L311.0,331.9 L312.0,331.8 L313.0,332.0 L314.0,331.3 L315.0,331.2 L316.0,331.2 L317.0,331.6 L318.0,330.9 L319.0,331.6 L320.0,331.5 L321.0,331.5 L322.0,331.2 L323.0,331.2 L324.0,330.9 L325.0,331.1 L326.0,331.1 L327.0,331.9 L328.0,331.4 L329.0,331.4 L330.0,331.3 L331.0,332.3 L332.0,332.4 L333.0,332.2" fill="none" stroke="#221612" stroke-width="1.7" stroke-linejoin="round"/>
<rect x="99" y="231" width="199" height="48" rx="24.0" fill="#ff8a2a" opacity="0.7" filter="url(#blur6)"/>
<rect x="105" y="236" width="187" height="38" rx="19.0" fill="#f88b2c" stroke="#c44e18" stroke-width="1.5"/>
<rect x="112" y="243" width="173" height="24" rx="12.0" fill="url(#hga)" stroke="#c8531a" stroke-width="1.2"/>
<circle cx="86.2" cy="282.6" r="4.5" fill="#b3c6d4" stroke="#8199ad" stroke-width="0.9"/>
<circle cx="88.4" cy="314.3" r="4.5" fill="#b3c6d4" stroke="#8199ad" stroke-width="0.9"/>
<circle cx="182" cy="316" r="4.5" fill="#b3c6d4" stroke="#8199ad" stroke-width="0.9"/>
<circle cx="220.4" cy="290" r="4.5" fill="#b3c6d4" stroke="#8199ad" stroke-width="0.9"/>
<circle cx="272" cy="293.5" r="4.5" fill="#b3c6d4" stroke="#8199ad" stroke-width="0.9"/>
<circle cx="309.7" cy="281.5" r="4.5" fill="#b3c6d4" stroke="#8199ad" stroke-width="0.9"/>
<circle cx="263.4" cy="319" r="4.5" fill="#b3c6d4" stroke="#8199ad" stroke-width="0.9"/>
</g>
<line x1="198.3" y1="227" x2="198.3" y2="398" stroke="#1a1a1a" stroke-width="1.4" stroke-dasharray="5,3.5"/>
<rect x="65.5" y="226.5" width="266.0" height="172.0" rx="7" fill="none" stroke="#1a1a1a" stroke-width="1.6"/>
<text x="114.5" y="312" font-size="17" font-weight="bold" fill="#505c68">O<tspan dy="4" font-size="11">2</tspan></text>
<text x="149.3" y="300.5" font-size="17" font-weight="bold" fill="#505c68">O<tspan dy="4" font-size="11">2</tspan></text>
<text x="225.5" y="317.5" font-size="11" font-weight="bold" fill="#5b5658">2<tspan dy="-4" font-size="17">O</tspan></text>
<text x="290.4" y="315" font-size="17" font-weight="bold" fill="#5b5658">O<tspan dy="4" font-size="11">2</tspan></text>
<text x="110.8" y="379.0" font-size="17" font-weight="bold" fill="#1a1a1a" stroke="#1a1a1a" stroke-width="0.25" text-anchor="start" textLength="41.2" lengthAdjust="spacingAndGlyphs">IN718</text>
<text x="240.0" y="373.0" font-size="17" font-weight="bold" fill="#1a1a1a" stroke="#1a1a1a" stroke-width="0.25" text-anchor="start" textLength="49.6" lengthAdjust="spacingAndGlyphs">CuCrZr</text>
<text x="215.4" y="388.5" font-size="15" font-weight="normal" fill="#222" stroke="#222" stroke-width="0.45" text-anchor="start" textLength="98.6" lengthAdjust="spacingAndGlyphs">(Sensitive to O2)</text>
<circle cx="334.3" cy="231.6" r="21.4" fill="#d23b3b" stroke="#1a1a1a" stroke-width="2"/>
<path d="M326,223.7 L342.6,240.3 M342.6,223.7 L326,240.3" stroke="#ffffff" stroke-width="4.6" stroke-linecap="round"/>
<rect x="428" y="217.5" width="283" height="189.5" rx="14" fill="#7d7d7d" stroke="#1a1a1a" stroke-width="2"/>
<g clip-path="url(#cpVacIn)">
<rect x="437" y="226.5" width="265.5" height="171.5" fill="url(#gVac)"/>
<rect x="437" y="332.6" width="132" height="70" fill="#c5c5c4"/>
<rect x="569" y="332.6" width="133.5" height="70" fill="#e3a46c"/>
<line x1="437" y1="332.6" x2="702.5" y2="332.6" stroke="#1a1a1a" stroke-width="1.5"/>
<line x1="569" y1="332.6" x2="569" y2="398" stroke="#1a1a1a" stroke-width="1.5"/>
<rect x="470" y="231" width="199" height="48" rx="24.0" fill="#ff8a2a" opacity="0.7" filter="url(#blur6)"/>
<rect x="476" y="236" width="187" height="38" rx="19.0" fill="#f88b2c" stroke="#c44e18" stroke-width="1.5"/>
<rect x="483" y="243" width="173" height="24" rx="12.0" fill="url(#hgv)" stroke="#c8531a" stroke-width="1.2"/>
</g>
<rect x="437" y="226.5" width="265.5" height="171.5" rx="7" fill="none" stroke="#1a1a1a" stroke-width="1.6"/>
<rect x="701" y="296.8" width="21" height="13.4" fill="#e4eaf1"/>
<line x1="701.5" y1="296.8" x2="722" y2="296.8" stroke="#1a1a1a" stroke-width="1.6"/>
<line x1="701.5" y1="310.2" x2="722" y2="310.2" stroke="#1a1a1a" stroke-width="1.6"/>
<path d="M725.3,317.5 L746.5,317.5 L750,325.6 L721.9,325.6 Z" fill="#b4b4b4" stroke="#1a1a1a" stroke-width="1.5" stroke-linejoin="round"/>
<circle cx="736" cy="303.1" r="16.5" fill="url(#gPump)" stroke="#1a1a1a" stroke-width="1.8"/>
<path d="M729.6,291.9 C734,296 740,300 747.2,300.3 M729.6,314.4 C734,310 740,306.6 747.2,306.6 M729.6,291.9 C728,299 728,307 729.6,314.4" fill="none" stroke="#1a1a1a" stroke-width="1.5"/>
<circle cx="729.6" cy="291.9" r="1.4" fill="#ddd" stroke="#1a1a1a" stroke-width="0.8"/><circle cx="729.6" cy="314.4" r="1.4" fill="#ddd" stroke="#1a1a1a" stroke-width="0.8"/>
<line x1="715" y1="303.6" x2="690.5" y2="303.6" stroke="#1a1a1a" stroke-width="1.6"/>
<path d="M696.5,297.8 L690,303.6 L696.5,309.4" fill="none" stroke="#1a1a1a" stroke-width="1.7"/>
<circle cx="684.2" cy="291.2" r="4.9" fill="#5a8fd0" stroke="#1d3a5a" stroke-width="1.2"/>
<circle cx="673" cy="303.1" r="4.9" fill="#5a8fd0" stroke="#1d3a5a" stroke-width="1.2"/>
<circle cx="684.2" cy="316.1" r="4.9" fill="#5a8fd0" stroke="#1d3a5a" stroke-width="1.2"/>
<text x="590.7" y="303.4" font-size="14" font-weight="bold" fill="#1a1a1a" stroke="#1a1a1a" stroke-width="0.25" text-anchor="start" textLength="60.3" lengthAdjust="spacingAndGlyphs">Preserves</text>
<text x="577.7" y="317.5" font-size="14" font-weight="bold" fill="#1a1a1a" stroke="#1a1a1a" stroke-width="0.25" text-anchor="start" textLength="85.9" lengthAdjust="spacingAndGlyphs">Surface Purity</text>
<text x="481.7" y="379.0" font-size="17" font-weight="bold" fill="#1a1a1a" stroke="#1a1a1a" stroke-width="0.25" text-anchor="start" textLength="43.0" lengthAdjust="spacingAndGlyphs">IN718</text>
<text x="611.0" y="373.5" font-size="17" font-weight="bold" fill="#1a1a1a" stroke="#1a1a1a" stroke-width="0.25" text-anchor="start" textLength="49.5" lengthAdjust="spacingAndGlyphs">CuCrZr</text>
<text x="586.5" y="388.0" font-size="15" font-weight="normal" fill="#222" stroke="#222" stroke-width="0.45" text-anchor="start" textLength="98.5" lengthAdjust="spacingAndGlyphs">(Sensitive to O2)</text>
<circle cx="705.3" cy="231.8" r="21.5" fill="#3e9d4f" stroke="#1a1a1a" stroke-width="2"/>
<path d="M695.5,232.5 L702,239 L715.5,225" fill="none" stroke="#ffffff" stroke-width="4.8" stroke-linecap="round" stroke-linejoin="round"/>
<text x="229.0" y="451.7" font-size="21.8" font-weight="bold" fill="#111" stroke="#111" stroke-width="0.25" text-anchor="start" textLength="309.5" lengthAdjust="spacingAndGlyphs">Enhancing Mechanical Integrity</text>
<text x="235.0" y="474.0" font-size="17.5" font-weight="normal" fill="#111" stroke="#111" stroke-width="0.45" text-anchor="start" textLength="298.0" lengthAdjust="spacingAndGlyphs">(From Physical to Metallurgical Bond)</text>
<rect x="24.4" y="555.6" width="172.79999999999998" height="165.60000000000002" fill="#c6c6c6"/>
<path d="M111.2,555.6 L112.1,559.7 L112.6,563.9 L112.6,568.0 L112.1,572.2 L111.2,576.3 L110.1,580.4 L109.1,584.6 L108.5,588.7 L108.3,592.9 L108.7,597.0 L109.5,601.1 L110.6,605.3 L111.7,609.4 L112.4,613.6 L112.7,617.7 L112.4,621.8 L111.7,626.0 L110.7,630.1 L109.6,634.3 L108.7,638.4 L108.3,642.5 L108.4,646.7 L109.1,650.8 L110.1,655.0 L111.2,659.1 L112.1,663.2 L112.6,667.4 L112.6,671.5 L112.1,675.7 L111.2,679.8 L110.1,683.9 L109.1,688.1 L108.5,692.2 L108.3,696.4 L108.7,700.5 L109.5,704.6 L110.6,708.8 L111.7,712.9 L112.4,717.1 L112.7,721.2 L197.2,721.2 L197.2,555.6 Z" fill="#e2a470"/>
<path d="M111.2,555.6 L112.1,559.7 L112.6,563.9 L112.6,568.0 L112.1,572.2 L111.2,576.3 L110.1,580.4 L109.1,584.6 L108.5,588.7 L108.3,592.9 L108.7,597.0 L109.5,601.1 L110.6,605.3 L111.7,609.4 L112.4,613.6 L112.7,617.7 L112.4,621.8 L111.7,626.0 L110.7,630.1 L109.6,634.3 L108.7,638.4 L108.3,642.5 L108.4,646.7 L109.1,650.8 L110.1,655.0 L111.2,659.1 L112.1,663.2 L112.6,667.4 L112.6,671.5 L112.1,675.7 L111.2,679.8 L110.1,683.9 L109.1,688.1 L108.5,692.2 L108.3,696.4 L108.7,700.5 L109.5,704.6 L110.6,708.8 L111.7,712.9 L112.4,717.1 L112.7,721.2" fill="none" stroke="#1a1a1a" stroke-width="1.4"/>
<rect x="24.4" y="555.6" width="172.79999999999998" height="165.60000000000002" fill="none" stroke="#1a1a1a" stroke-width="1.8"/>
<path d="M87.0,581.5 L87.6,582.4 L89.5,583.3 L92.2,584.2 L95.5,585.0 L98.8,585.9 L101.5,586.8 L103.4,587.7 L104.0,588.6 L103.4,589.5 L101.5,590.4 L98.8,591.3 L95.5,592.1 L92.2,593.0 L89.5,593.9 L87.6,594.8 L87.0,595.7 L87.6,596.6 L89.5,597.5 L92.2,598.3 L95.5,599.2 L98.8,600.1 L101.5,601.0 L103.4,601.9 L104.0,602.8 L103.4,603.7 L101.5,604.6 L98.8,605.4 L95.5,606.3 L92.2,607.2 L89.5,608.1 L87.6,609.0 L87.0,609.9 L87.6,610.8 L89.5,611.6 L92.2,612.5 L95.5,613.4 L98.8,614.3 L101.5,615.2 L103.4,616.1 L104.0,617.0 L103.4,617.9 L101.5,618.7 L98.8,619.6 L95.5,620.5 L92.2,621.4 L89.5,622.3 L87.6,623.2 L87.0,624.1 L87.6,624.9 L89.5,625.8 L92.2,626.7 L95.5,627.6 L98.8,628.5 L101.5,629.4 L103.4,630.3 L104.0,631.2 L103.4,632.0 L101.5,632.9 L98.8,633.8 L95.5,634.7 L92.2,635.6 L89.5,636.5 L87.6,637.4 L87.0,638.2 L87.6,639.1 L89.5,640.0 L92.2,640.9 L95.5,641.8 L98.8,642.7 L101.5,643.6 L103.4,644.5 L104.0,645.3 L103.4,646.2 L101.5,647.1 L98.8,648.0 L95.5,648.9 L92.2,649.8 L89.5,650.7 L87.6,651.6 L87.0,652.4 L87.6,653.3 L89.5,654.2 L92.2,655.1 L95.5,656.0 L98.8,656.9 L101.5,657.8 L103.4,658.6 L104.0,659.5 L103.4,660.4 L101.5,661.3 L98.8,662.2 L95.5,663.1 L92.2,664.0 L89.5,664.9 L87.6,665.7 L87.0,666.6 L87.6,667.5 L89.5,668.4 L92.2,669.3 L95.5,670.2 L98.8,671.1 L101.5,671.9 L103.4,672.8 L104.0,673.7 L103.4,674.6 L101.5,675.5 L98.8,676.4 L95.5,677.3 L92.2,678.2 L89.5,679.0 L87.6,679.9 L87.0,680.8 L87.6,681.7 L89.5,682.6 L92.2,683.5 L95.5,684.4 L98.8,685.2 L101.5,686.1 L103.4,687.0 L104.0,687.9 L103.4,688.8 L101.5,689.7 L98.8,690.6 L95.5,691.5 L92.2,692.3 L89.5,693.2 L87.6,694.1 L87.0,695.0" fill="none" stroke="#1a1a1a" stroke-width="1.7"/>
<path d="M117.0,581.5 L117.7,582.4 L119.6,583.3 L122.4,584.2 L125.7,585.0 L129.1,585.9 L131.9,586.8 L133.8,587.7 L134.5,588.6 L133.8,589.5 L131.9,590.4 L129.1,591.3 L125.8,592.1 L122.4,593.0 L119.6,593.9 L117.7,594.8 L117.0,595.7 L117.7,596.6 L119.6,597.5 L122.4,598.3 L125.7,599.2 L129.1,600.1 L131.9,601.0 L133.8,601.9 L134.5,602.8 L133.8,603.7 L131.9,604.6 L129.1,605.4 L125.8,606.3 L122.4,607.2 L119.6,608.1 L117.7,609.0 L117.0,609.9 L117.7,610.8 L119.6,611.6 L122.4,612.5 L125.7,613.4 L129.1,614.3 L131.9,615.2 L133.8,616.1 L134.5,617.0 L133.8,617.9 L131.9,618.7 L129.1,619.6 L125.8,620.5 L122.4,621.4 L119.6,622.3 L117.7,623.2 L117.0,624.1 L117.7,624.9 L119.6,625.8 L122.4,626.7 L125.7,627.6 L129.1,628.5 L131.9,629.4 L133.8,630.3 L134.5,631.2 L133.8,632.0 L131.9,632.9 L129.1,633.8 L125.8,634.7 L122.4,635.6 L119.6,636.5 L117.7,637.4 L117.0,638.2 L117.7,639.1 L119.6,640.0 L122.4,640.9 L125.7,641.8 L129.1,642.7 L131.9,643.6 L133.8,644.5 L134.5,645.3 L133.8,646.2 L131.9,647.1 L129.1,648.0 L125.8,648.9 L122.4,649.8 L119.6,650.7 L117.7,651.6 L117.0,652.4 L117.7,653.3 L119.6,654.2 L122.4,655.1 L125.7,656.0 L129.1,656.9 L131.9,657.8 L133.8,658.6 L134.5,659.5 L133.8,660.4 L131.9,661.3 L129.1,662.2 L125.8,663.1 L122.4,664.0 L119.6,664.9 L117.7,665.7 L117.0,666.6 L117.7,667.5 L119.6,668.4 L122.4,669.3 L125.7,670.2 L129.1,671.1 L131.9,671.9 L133.8,672.8 L134.5,673.7 L133.8,674.6 L131.9,675.5 L129.1,676.4 L125.8,677.3 L122.4,678.2 L119.6,679.0 L117.7,679.9 L117.0,680.8 L117.7,681.7 L119.6,682.6 L122.4,683.5 L125.7,684.4 L129.1,685.2 L131.9,686.1 L133.8,687.0 L134.5,687.9 L133.8,688.8 L131.9,689.7 L129.1,690.6 L125.8,691.5 L122.4,692.3 L119.6,693.2 L117.7,694.1 L117.0,695.0" fill="none" stroke="#1a1a1a" stroke-width="1.7"/>
<path d="M99.4,580 L108.5,543 L122,581" fill="none" stroke="#1a1a1a" stroke-width="1.3" stroke-linejoin="round"/>
<text x="54.0" y="523.2" font-size="16.5" font-weight="normal" fill="#1a1a1a" stroke="#1a1a1a" stroke-width="0.45" text-anchor="start" textLength="113.0" lengthAdjust="spacingAndGlyphs">Residual Stresses</text>
<text x="79.5" y="538.0" font-size="16.5" font-weight="normal" fill="#1a1a1a" stroke="#1a1a1a" stroke-width="0.45" text-anchor="start" textLength="61.5" lengthAdjust="spacingAndGlyphs">&amp; Tension</text>
<text x="34.4" y="644.0" font-size="17" font-weight="bold" fill="#1a1a1a" stroke="#1a1a1a" stroke-width="0.25" text-anchor="start" textLength="42.2" lengthAdjust="spacingAndGlyphs">IN718</text>
<text x="140.0" y="644.0" font-size="17" font-weight="bold" fill="#1a1a1a" stroke="#1a1a1a" stroke-width="0.25" text-anchor="start" textLength="49.0" lengthAdjust="spacingAndGlyphs">CuCrZr</text>
<text x="42.5" y="741.0" font-size="17" font-weight="bold" fill="#1a1a1a" stroke="#1a1a1a" stroke-width="0.25" text-anchor="start" textLength="137.2" lengthAdjust="spacingAndGlyphs">INITIAL INTERFACE</text>
<text x="52.5" y="757.5" font-size="15.5" font-weight="normal" fill="#1a1a1a" stroke="#1a1a1a" stroke-width="0.45" text-anchor="start" textLength="116.3" lengthAdjust="spacingAndGlyphs">(Physical Contact)</text>
<path d="M245.2,732 L245.2,529.10 Q245.2,523.5 252.20,519.78 A287.53,287.53 0 0 1 515.00,519.78 Q522,523.5 522,529.10 L522,732 Q522,746 508,746 L259.2,746 Q245.2,746 245.2,732 Z" fill="#727272" stroke="#1a1a1a" stroke-width="2" stroke-linejoin="round"/>
<path d="M254.5,730.3 L254.5,534.20 Q254.5,531 258.50,528.82 A265.51,265.51 0 0 1 508.70,528.82 Q512.7,531 512.7,534.20 L512.7,730.3 Q512.7,737.3 505.70000000000005,737.3 L261.5,737.3 Q254.5,737.3 254.5,730.3 Z" fill="url(#gCham)" stroke="#1a1a1a" stroke-width="1.5" stroke-linejoin="round"/>
<rect x="287.7" y="511.5" width="192.3" height="35.5" rx="17.75" fill="#ff8a2a" opacity="0.45" filter="url(#blur6)"/>
<rect x="293.7" y="516.5" width="180.3" height="25.5" rx="12.75" fill="#f88b2c" stroke="#c44e18" stroke-width="1.5"/>
<rect x="298.7" y="521.5" width="170.3" height="15.5" rx="7.75" fill="url(#hgc)" stroke="#c8531a" stroke-width="1.2"/>
<rect x="275.2" y="552" width="98.40000000000003" height="48" fill="#c8c8c8"/>
<path d="M324.7,552.0 L325.0,553.2 L325.3,554.4 L325.6,555.6 L325.8,556.8 L326.0,558.0 L326.1,559.2 L326.1,560.4 L326.0,561.6 L325.9,562.8 L325.7,564.0 L325.4,565.2 L325.1,566.4 L324.8,567.6 L324.5,568.8 L324.2,570.0 L323.9,571.2 L323.6,572.4 L323.5,573.6 L323.3,574.8 L323.3,576.0 L323.3,577.2 L323.5,578.4 L323.6,579.6 L323.9,580.8 L324.2,582.0 L324.5,583.2 L324.8,584.4 L325.1,585.6 L325.4,586.8 L325.7,588.0 L325.9,589.2 L326.0,590.4 L326.1,591.6 L326.1,592.8 L326.0,594.0 L325.8,595.2 L325.6,596.4 L325.3,597.6 L325.0,598.8 L324.7,600.0 L373.6,600 L373.6,552 Z" fill="#e0a26e"/>
<path d="M324.7,552.0 L325.0,553.2 L325.3,554.4 L325.6,555.6 L325.8,556.8 L326.0,558.0 L326.1,559.2 L326.1,560.4 L326.0,561.6 L325.9,562.8 L325.7,564.0 L325.4,565.2 L325.1,566.4 L324.8,567.6 L324.5,568.8 L324.2,570.0 L323.9,571.2 L323.6,572.4 L323.5,573.6 L323.3,574.8 L323.3,576.0 L323.3,577.2 L323.5,578.4 L323.6,579.6 L323.9,580.8 L324.2,582.0 L324.5,583.2 L324.8,584.4 L325.1,585.6 L325.4,586.8 L325.7,588.0 L325.9,589.2 L326.0,590.4 L326.1,591.6 L326.1,592.8 L326.0,594.0 L325.8,595.2 L325.6,596.4 L325.3,597.6 L325.0,598.8 L324.7,600.0" fill="none" stroke="#1a1a1a" stroke-width="1.1"/>
<path d="M312.0,557.0 L312.3,557.5 L313.1,558.1 L314.4,558.6 L315.8,559.1 L317.3,559.6 L318.6,560.2 L319.4,560.7 L319.7,561.2 L319.4,561.8 L318.6,562.3 L317.3,562.8 L315.9,563.3 L314.4,563.9 L313.1,564.4 L312.3,564.9 L312.0,565.4 L312.3,566.0 L313.1,566.5 L314.4,567.0 L315.8,567.6 L317.3,568.1 L318.6,568.6 L319.4,569.1 L319.7,569.7 L319.4,570.2 L318.6,570.7 L317.3,571.2 L315.9,571.8 L314.4,572.3 L313.1,572.8 L312.3,573.4 L312.0,573.9 L312.3,574.4 L313.1,574.9 L314.4,575.5 L315.8,576.0 L317.3,576.5 L318.6,577.1 L319.4,577.6 L319.7,578.1 L319.4,578.6 L318.6,579.2 L317.3,579.7 L315.9,580.2 L314.4,580.8 L313.1,581.3 L312.3,581.8 L312.0,582.3 L312.3,582.9 L313.1,583.4 L314.4,583.9 L315.8,584.4 L317.3,585.0 L318.6,585.5 L319.4,586.0 L319.7,586.6 L319.4,587.1 L318.6,587.6 L317.3,588.1 L315.9,588.7 L314.4,589.2 L313.1,589.7 L312.3,590.2 L312.0,590.8 L312.3,591.3 L313.1,591.8 L314.4,592.4 L315.8,592.9 L317.3,593.4 L318.6,593.9 L319.4,594.5 L319.7,595.0" fill="none" stroke="#1a1a1a" stroke-width="1.1"/>
<path d="M328.5,557.0 L328.8,557.5 L329.7,558.1 L331.0,558.6 L332.5,559.1 L334.0,559.6 L335.3,560.2 L336.2,560.7 L336.5,561.2 L336.2,561.8 L335.3,562.3 L334.0,562.8 L332.5,563.3 L331.0,563.9 L329.7,564.4 L328.8,564.9 L328.5,565.4 L328.8,566.0 L329.7,566.5 L331.0,567.0 L332.5,567.6 L334.0,568.1 L335.3,568.6 L336.2,569.1 L336.5,569.7 L336.2,570.2 L335.3,570.7 L334.0,571.2 L332.5,571.8 L331.0,572.3 L329.7,572.8 L328.8,573.4 L328.5,573.9 L328.8,574.4 L329.7,574.9 L331.0,575.5 L332.5,576.0 L334.0,576.5 L335.3,577.1 L336.2,577.6 L336.5,578.1 L336.2,578.6 L335.3,579.2 L334.0,579.7 L332.5,580.2 L331.0,580.8 L329.7,581.3 L328.8,581.8 L328.5,582.3 L328.8,582.9 L329.7,583.4 L331.0,583.9 L332.5,584.4 L334.0,585.0 L335.3,585.5 L336.2,586.0 L336.5,586.6 L336.2,587.1 L335.3,587.6 L334.0,588.1 L332.5,588.7 L331.0,589.2 L329.7,589.7 L328.8,590.2 L328.5,590.8 L328.8,591.3 L329.7,591.8 L331.0,592.4 L332.5,592.9 L334.0,593.4 L335.3,593.9 L336.2,594.5 L336.5,595.0" fill="none" stroke="#1a1a1a" stroke-width="1.1"/>
<line x1="275.2" y1="552" x2="373.6" y2="552" stroke="#1a1a1a" stroke-width="1.6"/><line x1="275.2" y1="600" x2="373.6" y2="600" stroke="#1a1a1a" stroke-width="1.6"/>
<text x="292.8" y="613.8" font-size="11.5" font-weight="bold" fill="#1a1a1a" stroke="#1a1a1a" stroke-width="0.25" text-anchor="start" textLength="63.6" lengthAdjust="spacingAndGlyphs">1. ELIMINATE</text>
<text x="274.7" y="624.2" font-size="11.5" font-weight="bold" fill="#1a1a1a" stroke="#1a1a1a" stroke-width="0.25" text-anchor="start" textLength="99.7" lengthAdjust="spacingAndGlyphs">RESIDUAL STRESSES</text>
<text x="277.5" y="635.6" font-size="10.8" font-weight="normal" fill="#1a1a1a" stroke="#1a1a1a" stroke-width="0.45" text-anchor="start" textLength="93.0" lengthAdjust="spacingAndGlyphs">(Material Relaxation)</text>
<rect x="396.2" y="552" width="49.80000000000001" height="48" fill="#c8c8c8"/>
<rect x="446" y="552" width="48.39999999999998" height="48" fill="#e0a26e"/>
<line x1="446" y1="552" x2="446" y2="600" stroke="#1a1a1a" stroke-width="1.2"/>
<line x1="435" y1="563" x2="456" y2="563" stroke="#1a1a1a" stroke-width="1.1"/><line x1="435" y1="587.7" x2="456" y2="588.2" stroke="#1a1a1a" stroke-width="1.1"/>
<line x1="431" y1="575.8" x2="456" y2="575.8" stroke="#1a1a1a" stroke-width="1.4"/><path d="M455,572 L462,575.8 L455,579.6 Z" fill="#1a1a1a"/>
<circle cx="406.9" cy="559.8" r="3.6" fill="#4a8fd0" stroke="#1a1a1a" stroke-width="0.9"/>
<circle cx="419.7" cy="566.9" r="3.6" fill="#4a8fd0" stroke="#1a1a1a" stroke-width="0.9"/>
<circle cx="435" cy="563" r="3.6" fill="#4a8fd0" stroke="#1a1a1a" stroke-width="0.9"/>
<circle cx="409.7" cy="577.5" r="3.6" fill="#4a8fd0" stroke="#1a1a1a" stroke-width="0.9"/>
<circle cx="421.7" cy="584.8" r="3.6" fill="#4a8fd0" stroke="#1a1a1a" stroke-width="0.9"/>
<circle cx="405.6" cy="591.9" r="3.6" fill="#4a8fd0" stroke="#1a1a1a" stroke-width="0.9"/>
<circle cx="435" cy="587.5" r="3.6" fill="#4a8fd0" stroke="#1a1a1a" stroke-width="0.9"/>
<circle cx="456" cy="563" r="3.6" fill="#e07a55" stroke="#1a1a1a" stroke-width="0.9"/>
<circle cx="472.5" cy="559" r="3.6" fill="#e07a55" stroke="#1a1a1a" stroke-width="0.9"/>
<circle cx="484.7" cy="567.2" r="3.6" fill="#e07a55" stroke="#1a1a1a" stroke-width="0.9"/>
<circle cx="472.2" cy="575.5" r="3.6" fill="#e07a55" stroke="#1a1a1a" stroke-width="0.9"/>
<circle cx="456" cy="588.4" r="3.6" fill="#e07a55" stroke="#1a1a1a" stroke-width="0.9"/>
<circle cx="483.7" cy="584.8" r="3.6" fill="#e07a55" stroke="#1a1a1a" stroke-width="0.9"/>
<circle cx="471.7" cy="592.7" r="3.6" fill="#e07a55" stroke="#1a1a1a" stroke-width="0.9"/>
<line x1="396.2" y1="552" x2="494.4" y2="552" stroke="#1a1a1a" stroke-width="1.6"/><line x1="396.2" y1="600" x2="494.4" y2="600" stroke="#1a1a1a" stroke-width="1.6"/>
<text x="415.0" y="613.8" font-size="11.5" font-weight="bold" fill="#1a1a1a" stroke="#1a1a1a" stroke-width="0.25" text-anchor="start" textLength="60.6" lengthAdjust="spacingAndGlyphs">2. PROMOTE</text>
<text x="399.0" y="624.2" font-size="11.5" font-weight="bold" fill="#1a1a1a" stroke="#1a1a1a" stroke-width="0.25" text-anchor="start" textLength="93.0" lengthAdjust="spacingAndGlyphs">ATOMIC DIFFUSION</text>
<text x="405.3" y="635.6" font-size="10.8" font-weight="normal" fill="#1a1a1a" stroke="#1a1a1a" stroke-width="0.45" text-anchor="start" textLength="79.7" lengthAdjust="spacingAndGlyphs">(Blurring the Line)</text>
<rect x="275.2" y="646" width="98.40000000000003" height="48" fill="#c8c8c8"/>
<path d="M325.5,646.0 L325.6,647.2 L325.7,648.4 L325.7,649.6 L325.6,650.8 L325.4,652.0 L325.2,653.2 L324.9,654.4 L324.6,655.6 L324.2,656.8 L323.9,658.0 L323.5,659.2 L323.3,660.4 L323.0,661.6 L322.8,662.8 L322.7,664.0 L322.7,665.2 L322.8,666.4 L322.9,667.6 L323.1,668.8 L323.4,670.0 L323.7,671.2 L324.1,672.4 L324.4,673.6 L324.7,674.8 L325.1,676.0 L325.3,677.2 L325.5,678.4 L325.7,679.6 L325.7,680.8 L325.7,682.0 L325.6,683.2 L325.4,684.4 L325.1,685.6 L324.8,686.8 L324.5,688.0 L324.1,689.2 L323.8,690.4 L323.4,691.6 L323.2,692.8 L322.9,694.0 L373.6,694 L373.6,646 Z" fill="#e0a26e"/>
<path d="M325.5,646.0 L325.6,647.2 L325.7,648.4 L325.7,649.6 L325.6,650.8 L325.4,652.0 L325.2,653.2 L324.9,654.4 L324.6,655.6 L324.2,656.8 L323.9,658.0 L323.5,659.2 L323.3,660.4 L323.0,661.6 L322.8,662.8 L322.7,664.0 L322.7,665.2 L322.8,666.4 L322.9,667.6 L323.1,668.8 L323.4,670.0 L323.7,671.2 L324.1,672.4 L324.4,673.6 L324.7,674.8 L325.1,676.0 L325.3,677.2 L325.5,678.4 L325.7,679.6 L325.7,680.8 L325.7,682.0 L325.6,683.2 L325.4,684.4 L325.1,685.6 L324.8,686.8 L324.5,688.0 L324.1,689.2 L323.8,690.4 L323.4,691.6 L323.2,692.8 L322.9,694.0" fill="none" stroke="#3a2418" stroke-width="1"/>
<circle cx="283.75" cy="653.3" r="3.5" fill="#4d8fd0" stroke="#14263c" stroke-width="1.1"/>
<circle cx="295.5" cy="653.3" r="3.5" fill="#4d8fd0" stroke="#14263c" stroke-width="1.1"/>
<circle cx="306.9" cy="653.3" r="3.5" fill="#4d8fd0" stroke="#14263c" stroke-width="1.1"/>
<circle cx="342.3" cy="653.3" r="3.5" fill="#4d8fd0" stroke="#14263c" stroke-width="1.1"/>
<circle cx="353.75" cy="653.3" r="3.5" fill="#4d8fd0" stroke="#14263c" stroke-width="1.1"/>
<circle cx="365" cy="653.3" r="3.5" fill="#4d8fd0" stroke="#14263c" stroke-width="1.1"/>
<circle cx="283.75" cy="664.2" r="3.5" fill="#4d8fd0" stroke="#14263c" stroke-width="1.1"/>
<circle cx="295.5" cy="664.2" r="3.5" fill="#4d8fd0" stroke="#14263c" stroke-width="1.1"/>
<circle cx="306.9" cy="664.2" r="3.5" fill="#4d8fd0" stroke="#14263c" stroke-width="1.1"/>
<circle cx="318.4" cy="664.2" r="3.5" fill="#4d8fd0" stroke="#14263c" stroke-width="1.1"/>
<circle cx="330.6" cy="664.2" r="3.5" fill="#4d8fd0" stroke="#14263c" stroke-width="1.1"/>
<circle cx="342.3" cy="664.2" r="3.5" fill="#4d8fd0" stroke="#14263c" stroke-width="1.1"/>
<circle cx="353.75" cy="664.2" r="3.5" fill="#4d8fd0" stroke="#14263c" stroke-width="1.1"/>
<circle cx="365" cy="664.2" r="3.5" fill="#4d8fd0" stroke="#14263c" stroke-width="1.1"/>
<circle cx="283.75" cy="675.2" r="3.5" fill="#4d8fd0" stroke="#14263c" stroke-width="1.1"/>
<circle cx="295.5" cy="675.2" r="3.5" fill="#4d8fd0" stroke="#14263c" stroke-width="1.1"/>
<circle cx="306.9" cy="675.2" r="3.5" fill="#4d8fd0" stroke="#14263c" stroke-width="1.1"/>
<circle cx="318.4" cy="675.2" r="3.5" fill="#4d8fd0" stroke="#14263c" stroke-width="1.1"/>
<circle cx="342.3" cy="675.2" r="3.5" fill="#4d8fd0" stroke="#14263c" stroke-width="1.1"/>
<circle cx="353.75" cy="675.2" r="3.5" fill="#4d8fd0" stroke="#14263c" stroke-width="1.1"/>
<circle cx="365" cy="675.2" r="3.5" fill="#4d8fd0" stroke="#14263c" stroke-width="1.1"/>
<circle cx="283.75" cy="686.1" r="3.5" fill="#4d8fd0" stroke="#14263c" stroke-width="1.1"/>
<circle cx="295.5" cy="686.1" r="3.5" fill="#4d8fd0" stroke="#14263c" stroke-width="1.1"/>
<circle cx="306.9" cy="686.1" r="3.5" fill="#4d8fd0" stroke="#14263c" stroke-width="1.1"/>
<circle cx="318.4" cy="686.1" r="3.5" fill="#4d8fd0" stroke="#14263c" stroke-width="1.1"/>
<circle cx="330.6" cy="686.1" r="3.5" fill="#4d8fd0" stroke="#14263c" stroke-width="1.1"/>
<circle cx="342.3" cy="686.1" r="3.5" fill="#4d8fd0" stroke="#14263c" stroke-width="1.1"/>
<circle cx="353.75" cy="686.1" r="3.5" fill="#4d8fd0" stroke="#14263c" stroke-width="1.1"/>
<circle cx="365" cy="686.1" r="3.5" fill="#4d8fd0" stroke="#14263c" stroke-width="1.1"/>
<circle cx="312.6" cy="659" r="2.6" fill="#7a3a22" stroke="#3a1a10" stroke-width="0.6"/>
<circle cx="301" cy="671" r="2.4" fill="#7a3a22" stroke="#3a1a10" stroke-width="0.6"/>
<circle cx="311.6" cy="682" r="2.4" fill="#7a3a22" stroke="#3a1a10" stroke-width="0.6"/>
<circle cx="337.6" cy="659" r="2.2" fill="#7a3a22" stroke="#3a1a10" stroke-width="0.6"/>
<circle cx="348.6" cy="669.4" r="2.4" fill="#7a3a22" stroke="#3a1a10" stroke-width="0.6"/>
<circle cx="330.6" cy="675.6" r="3.3" fill="#7a3a22" stroke="#3a1a10" stroke-width="0.6"/>
<circle cx="329" cy="653.5" r="1.6" fill="#7a3a22" stroke="#3a1a10" stroke-width="0.6"/>
<line x1="275.2" y1="646" x2="373.6" y2="646" stroke="#1a1a1a" stroke-width="1.6"/><line x1="275.2" y1="694" x2="373.6" y2="694" stroke="#1a1a1a" stroke-width="1.6"/>
<text x="265.0" y="706.9" font-size="11.5" font-weight="bold" fill="#1a1a1a" stroke="#1a1a1a" stroke-width="0.25" text-anchor="start" textLength="118.0" lengthAdjust="spacingAndGlyphs">3. DRIVE PRECIPITATION</text>
<text x="283.0" y="718.0" font-size="11.5" font-weight="bold" fill="#1a1a1a" stroke="#1a1a1a" stroke-width="0.25" text-anchor="start" textLength="82.8" lengthAdjust="spacingAndGlyphs">STRENGTHENING</text>
<text x="275.0" y="729.8" font-size="10.8" font-weight="normal" fill="#1a1a1a" stroke="#1a1a1a" stroke-width="0.45" text-anchor="start" textLength="98.6" lengthAdjust="spacingAndGlyphs">(Hardness &amp; Strength)</text>
<g clip-path="url(#cpP4)">
<rect x="396.2" y="646" width="98.19999999999999" height="48" fill="#e0a26e"/>
<path d="M423.8,633.7 L430.9,638.5 L430.9,648.3 L423.8,653.1 L416.6,648.3 L416.6,638.5 ZM438.1,633.7 L445.2,638.5 L445.2,648.3 L438.1,653.1 L430.9,648.3 L430.9,638.5 ZM452.4,633.7 L459.5,638.5 L459.5,648.3 L452.4,653.1 L445.2,648.3 L445.2,638.5 ZM466.7,633.7 L473.8,638.5 L473.8,648.3 L466.7,653.1 L459.6,648.3 L459.6,638.5 ZM481.0,633.7 L488.1,638.5 L488.1,648.3 L481.0,653.1 L473.9,648.3 L473.9,638.5 ZM495.3,633.7 L502.4,638.5 L502.4,648.3 L495.3,653.1 L488.1,648.3 L488.1,638.5 ZM509.6,633.7 L516.8,638.5 L516.8,648.3 L509.6,653.1 L502.4,648.3 L502.4,638.5 ZM431.0,648.3 L438.1,653.1 L438.1,662.9 L431.0,667.7 L423.9,662.9 L423.9,653.1 ZM445.3,648.3 L452.4,653.1 L452.4,662.9 L445.3,667.7 L438.2,662.9 L438.2,653.1 ZM459.6,648.3 L466.8,653.1 L466.8,662.9 L459.6,667.7 L452.5,662.9 L452.5,653.1 ZM473.9,648.3 L481.1,653.1 L481.1,662.9 L473.9,667.7 L466.8,662.9 L466.8,653.1 ZM488.2,648.3 L495.4,653.1 L495.4,662.9 L488.2,667.7 L481.1,662.9 L481.1,653.1 ZM502.5,648.3 L509.6,653.1 L509.6,662.9 L502.5,667.7 L495.4,662.9 L495.4,653.1 ZM516.8,648.3 L524.0,653.1 L524.0,662.9 L516.8,667.7 L509.7,662.9 L509.7,653.1 ZM423.8,662.9 L430.9,667.7 L430.9,677.5 L423.8,682.3 L416.6,677.5 L416.6,667.7 ZM438.1,662.9 L445.2,667.7 L445.2,677.5 L438.1,682.3 L430.9,677.5 L430.9,667.7 ZM452.4,662.9 L459.5,667.7 L459.5,677.5 L452.4,682.3 L445.2,677.5 L445.2,667.7 ZM466.7,662.9 L473.8,667.7 L473.8,677.5 L466.7,682.3 L459.6,677.5 L459.6,667.7 ZM481.0,662.9 L488.1,667.7 L488.1,677.5 L481.0,682.3 L473.9,677.5 L473.9,667.7 ZM495.3,662.9 L502.4,667.7 L502.4,677.5 L495.3,682.3 L488.1,677.5 L488.1,667.7 ZM509.6,662.9 L516.8,667.7 L516.8,677.5 L509.6,682.3 L502.4,677.5 L502.4,667.7 ZM431.0,677.5 L438.1,682.3 L438.1,692.1 L431.0,696.9 L423.9,692.1 L423.9,682.3 ZM445.3,677.5 L452.4,682.3 L452.4,692.1 L445.3,696.9 L438.2,692.1 L438.2,682.3 ZM459.6,677.5 L466.8,682.3 L466.8,692.1 L459.6,696.9 L452.5,692.1 L452.5,682.3 ZM473.9,677.5 L481.1,682.3 L481.1,692.1 L473.9,696.9 L466.8,692.1 L466.8,682.3 ZM488.2,677.5 L495.4,682.3 L495.4,692.1 L488.2,696.9 L481.1,692.1 L481.1,682.3 ZM502.5,677.5 L509.6,682.3 L509.6,692.1 L502.5,696.9 L495.4,692.1 L495.4,682.3 ZM516.8,677.5 L524.0,682.3 L524.0,692.1 L516.8,696.9 L509.7,692.1 L509.7,682.3 ZM423.8,692.1 L430.9,696.9 L430.9,706.7 L423.8,711.5 L416.6,706.7 L416.6,696.9 ZM438.1,692.1 L445.2,696.9 L445.2,706.7 L438.1,711.5 L430.9,706.7 L430.9,696.9 ZM452.4,692.1 L459.5,696.9 L459.5,706.7 L452.4,711.5 L445.2,706.7 L445.2,696.9 ZM466.7,692.1 L473.8,696.9 L473.8,706.7 L466.7,711.5 L459.6,706.7 L459.6,696.9 ZM481.0,692.1 L488.1,696.9 L488.1,706.7 L481.0,711.5 L473.9,706.7 L473.9,696.9 ZM495.3,692.1 L502.4,696.9 L502.4,706.7 L495.3,711.5 L488.1,706.7 L488.1,696.9 ZM509.6,692.1 L516.8,696.9 L516.8,706.7 L509.6,711.5 L502.4,706.7 L502.4,696.9 Z" fill="none" stroke="#3a2418" stroke-width="1"/>
<path d="M396,645 L442.5,645 L442.5,646.7 C446,649 447.5,651 447.1,653.3 L446.5,661.3 L441.1,666 L441.1,675.9 L447.1,683.8 L445.8,695 L396,695 Z" fill="#c4c6c9" stroke="#222" stroke-width="1"/>
<path d="M408.3,646 L410,660 L396,663.3 M410,660 L418,664.6 L429.9,658.6 L432.5,646 M429.9,658.6 L441.1,666 M418,664.6 L418,676.5 L406,683.2 L396,681.2 M406,683.2 L408,694 M418,676.5 L429.9,683.8 L429.9,694 M429.9,683.8 L441.1,675.9" fill="none" stroke="#222" stroke-width="1"/>
</g>
<line x1="396.2" y1="646" x2="494.4" y2="646" stroke="#1a1a1a" stroke-width="1.6"/><line x1="396.2" y1="694" x2="494.4" y2="694" stroke="#1a1a1a" stroke-width="1.6"/>
<text x="424.0" y="706.9" font-size="11.5" font-weight="bold" fill="#1a1a1a" stroke="#1a1a1a" stroke-width="0.25" text-anchor="start" textLength="42.6" lengthAdjust="spacingAndGlyphs">4. GRAIN</text>
<text x="401.9" y="718.0" font-size="11.5" font-weight="bold" fill="#1a1a1a" stroke="#1a1a1a" stroke-width="0.25" text-anchor="start" textLength="87.0" lengthAdjust="spacingAndGlyphs">REORGANIZATION</text>
<text x="401.9" y="729.8" font-size="10.8" font-weight="normal" fill="#1a1a1a" stroke="#1a1a1a" stroke-width="0.45" text-anchor="start" textLength="86.5" lengthAdjust="spacingAndGlyphs">(Uniform Structure)</text>
<text x="283.8" y="767.0" font-size="17" font-weight="bold" fill="#1a1a1a" stroke="#1a1a1a" stroke-width="0.25" text-anchor="start" textLength="200.2" lengthAdjust="spacingAndGlyphs">VACUUM HEAT TREATMENT</text>
<text x="295.5" y="782.7" font-size="16" font-weight="normal" fill="#1a1a1a" stroke="#1a1a1a" stroke-width="0.45" text-anchor="start" textLength="177.0" lengthAdjust="spacingAndGlyphs">(Thermal Energy + Vacuum)</text>
<path d="M204.2,617.5999999999999 L231,617.5999999999999 L231,605.0 L254.9,629.8 L231,654.5999999999999 L231,642.0 L204.2,642.0" fill="none" stroke="#ffffff" stroke-width="6" stroke-linejoin="miter"/>
<path d="M204.2,617.5999999999999 L231,617.5999999999999 L231,605.0 L254.9,629.8 L231,654.5999999999999 L231,642.0 L204.2,642.0 Z" fill="url(#gArr)" stroke="none"/>
<path d="M204.2,617.5999999999999 L231,617.5999999999999 L231,605.0 L254.9,629.8 L231,654.5999999999999 L231,642.0 L204.2,642.0" fill="none" stroke="#111" stroke-width="1.6" stroke-linejoin="miter"/>
<path d="M512.3,617.1999999999999 L539,617.1999999999999 L539,605.1999999999999 L563.6,629.8 L539,654.4 L539,642.4 L512.3,642.4" fill="none" stroke="#ffffff" stroke-width="6" stroke-linejoin="miter"/>
<path d="M512.3,617.1999999999999 L539,617.1999999999999 L539,605.1999999999999 L563.6,629.8 L539,654.4 L539,642.4 L512.3,642.4 Z" fill="url(#gArr)" stroke="none"/>
<path d="M512.3,617.1999999999999 L539,617.1999999999999 L539,605.1999999999999 L563.6,629.8 L539,654.4 L539,642.4 L512.3,642.4" fill="none" stroke="#111" stroke-width="1.6" stroke-linejoin="miter"/>
<rect x="570.6" y="555.6" width="172.79999999999995" height="148.39999999999998" fill="url(#gFin)"/>
<g clip-path="url(#cpFin)"><path d="M705.7,579.8 L698.4,592.5 L683.6,592.5 L676.3,579.8 L683.6,567.1 L698.4,567.1ZM705.7,605.3 L698.4,618.0 L683.6,618.0 L676.3,605.3 L683.6,592.5 L698.4,592.5ZM705.7,630.7 L698.4,643.5 L683.6,643.5 L676.3,630.7 L683.6,618.0 L698.4,618.0ZM705.7,656.2 L698.4,668.9 L683.6,668.9 L676.3,656.2 L683.6,643.5 L698.4,643.5ZM705.7,681.6 L698.4,694.4 L683.6,694.4 L676.3,681.6 L683.6,668.9 L698.4,668.9ZM705.7,707.1 L698.4,719.8 L683.6,719.8 L676.3,707.1 L683.6,694.4 L698.4,694.4ZM727.8,567.2 L720.5,579.9 L705.8,579.9 L698.4,567.2 L705.8,554.5 L720.5,554.5ZM727.8,592.7 L720.5,605.4 L705.8,605.4 L698.4,592.7 L705.8,579.9 L720.5,579.9ZM727.8,618.1 L720.5,630.9 L705.8,630.9 L698.4,618.1 L705.8,605.4 L720.5,605.4ZM727.8,643.6 L720.5,656.3 L705.8,656.3 L698.4,643.6 L705.8,630.9 L720.5,630.9ZM727.8,669.0 L720.5,681.8 L705.8,681.8 L698.4,669.0 L705.8,656.3 L720.5,656.3ZM727.8,694.5 L720.5,707.2 L705.8,707.2 L698.4,694.5 L705.8,681.8 L720.5,681.8ZM727.8,720.0 L720.5,732.7 L705.8,732.7 L698.4,720.0 L705.8,707.2 L720.5,707.2ZM749.9,579.8 L742.6,592.5 L727.9,592.5 L720.5,579.8 L727.9,567.1 L742.6,567.1ZM749.9,605.3 L742.6,618.0 L727.9,618.0 L720.5,605.3 L727.9,592.5 L742.6,592.5ZM749.9,630.7 L742.6,643.5 L727.9,643.5 L720.5,630.7 L727.9,618.0 L742.6,618.0ZM749.9,656.2 L742.6,668.9 L727.9,668.9 L720.5,656.2 L727.9,643.5 L742.6,643.5ZM749.9,681.6 L742.6,694.4 L727.9,694.4 L720.5,681.6 L727.9,668.9 L742.6,668.9ZM749.9,707.1 L742.6,719.8 L727.9,719.8 L720.5,707.1 L727.9,694.4 L742.6,694.4ZM772.0,567.2 L764.6,579.9 L749.9,579.9 L742.6,567.2 L749.9,554.5 L764.6,554.5ZM772.0,592.7 L764.6,605.4 L749.9,605.4 L742.6,592.7 L749.9,579.9 L764.6,579.9ZM772.0,618.1 L764.6,630.9 L749.9,630.9 L742.6,618.1 L749.9,605.4 L764.6,605.4ZM772.0,643.6 L764.6,656.3 L749.9,656.3 L742.6,643.6 L749.9,630.9 L764.6,630.9ZM772.0,669.0 L764.6,681.8 L749.9,681.8 L742.6,669.0 L749.9,656.3 L764.6,656.3ZM772.0,694.5 L764.6,707.2 L749.9,707.2 L742.6,694.5 L749.9,681.8 L764.6,681.8ZM772.0,720.0 L764.6,732.7 L749.9,732.7 L742.6,720.0 L749.9,707.2 L764.6,707.2Z" fill="none" stroke="#3a2418" stroke-width="1.1"/></g>
<path d="M635.6,565 L674.4,565M635.6,581.2 L674.4,581.2M635.6,600.1 L674.4,600.1M635.6,616.2 L674.4,616.2M635.6,632 L674.4,632M635.6,652 L674.4,652M635.6,668.6 L674.4,668.6M635.6,694 L674.4,694M635.6,565 L656.5,581.2 M656.5,565 L635.6,587.2M635.6,616.2 L656.5,652 M643.6,632 L674.4,652 M656.5,632 L674.4,652M641.6,668.6 L674.4,694 M635.6,652 L656.5,676.6M656.5,565 L656.5,694" fill="none" stroke="#2a2a2a" stroke-width="1.1"/>
<circle cx="635.6" cy="565" r="4.3" fill="#4d86c8" stroke="#1a2a40" stroke-width="1"/>
<circle cx="656.5" cy="565" r="4.3" fill="#4d86c8" stroke="#1a2a40" stroke-width="1"/>
<circle cx="674.4" cy="565" r="4.3" fill="#4d86c8" stroke="#1a2a40" stroke-width="1"/>
<circle cx="635.6" cy="581.2" r="4.3" fill="#4d86c8" stroke="#1a2a40" stroke-width="1"/>
<circle cx="656.5" cy="581.2" r="4.3" fill="#4d86c8" stroke="#1a2a40" stroke-width="1"/>
<circle cx="674.4" cy="581.2" r="4.3" fill="#4d86c8" stroke="#1a2a40" stroke-width="1"/>
<circle cx="635.6" cy="600.1" r="4.3" fill="#4d86c8" stroke="#1a2a40" stroke-width="1"/>
<circle cx="656.5" cy="600.1" r="4.3" fill="#4d86c8" stroke="#1a2a40" stroke-width="1"/>
<circle cx="674.4" cy="600.1" r="4.3" fill="#4d86c8" stroke="#1a2a40" stroke-width="1"/>
<circle cx="635.6" cy="616.2" r="4.3" fill="#4d86c8" stroke="#1a2a40" stroke-width="1"/>
<circle cx="656.5" cy="616.2" r="4.3" fill="#4d86c8" stroke="#1a2a40" stroke-width="1"/>
<circle cx="674.4" cy="616.2" r="4.3" fill="#4d86c8" stroke="#1a2a40" stroke-width="1"/>
<circle cx="635.6" cy="632" r="4.3" fill="#4d86c8" stroke="#1a2a40" stroke-width="1"/>
<circle cx="656.5" cy="632" r="4.3" fill="#4d86c8" stroke="#1a2a40" stroke-width="1"/>
<circle cx="674.4" cy="632" r="4.3" fill="#4d86c8" stroke="#1a2a40" stroke-width="1"/>
<circle cx="635.6" cy="652" r="4.3" fill="#4d86c8" stroke="#1a2a40" stroke-width="1"/>
<circle cx="656.5" cy="652" r="4.3" fill="#4d86c8" stroke="#1a2a40" stroke-width="1"/>
<circle cx="674.4" cy="652" r="4.3" fill="#4d86c8" stroke="#1a2a40" stroke-width="1"/>
<circle cx="635.6" cy="668.6" r="4.3" fill="#4d86c8" stroke="#1a2a40" stroke-width="1"/>
<circle cx="656.5" cy="668.6" r="4.3" fill="#4d86c8" stroke="#1a2a40" stroke-width="1"/>
<circle cx="674.4" cy="668.6" r="4.3" fill="#4d86c8" stroke="#1a2a40" stroke-width="1"/>
<circle cx="635.6" cy="694" r="4.3" fill="#4d86c8" stroke="#1a2a40" stroke-width="1"/>
<circle cx="656.5" cy="694" r="4.3" fill="#4d86c8" stroke="#1a2a40" stroke-width="1"/>
<circle cx="674.4" cy="694" r="4.3" fill="#4d86c8" stroke="#1a2a40" stroke-width="1"/>
<circle cx="645.7" cy="591.5" r="4.3" fill="#4d86c8" stroke="#1a2a40" stroke-width="1"/>
<circle cx="645.7" cy="643" r="4.3" fill="#4d86c8" stroke="#1a2a40" stroke-width="1"/>
<circle cx="645.7" cy="660.3" r="4.3" fill="#4d86c8" stroke="#1a2a40" stroke-width="1"/>
<circle cx="645.7" cy="684" r="4.3" fill="#4d86c8" stroke="#1a2a40" stroke-width="1"/>
<rect x="570.6" y="555.6" width="172.79999999999995" height="148.39999999999998" fill="none" stroke="#1a1a1a" stroke-width="1.8"/>
<text x="581.0" y="643.8" font-size="17" font-weight="bold" fill="#1a1a1a" stroke="#1a1a1a" stroke-width="0.25" text-anchor="start" textLength="41.5" lengthAdjust="spacingAndGlyphs">IN718</text>
<text x="636.0" y="722.8" font-size="17" font-weight="bold" fill="#1a1a1a" stroke="#1a1a1a" stroke-width="0.25" text-anchor="start" textLength="43.0" lengthAdjust="spacingAndGlyphs">FINAL</text>
<text x="596.0" y="740.0" font-size="17" font-weight="bold" fill="#1a1a1a" stroke="#1a1a1a" stroke-width="0.25" text-anchor="start" textLength="122.4" lengthAdjust="spacingAndGlyphs">METALLURGICAL</text>
<text x="636.0" y="757.0" font-size="17" font-weight="bold" fill="#1a1a1a" stroke="#1a1a1a" stroke-width="0.25" text-anchor="start" textLength="43.0" lengthAdjust="spacingAndGlyphs">BOND</text>
<text x="596.5" y="773.8" font-size="16" font-weight="normal" fill="#1a1a1a" stroke="#1a1a1a" stroke-width="0.45" text-anchor="start" textLength="122.0" lengthAdjust="spacingAndGlyphs">(Robust &amp; Uniform)</text>
<text x="257.5" y="817.6" font-size="23" font-weight="bold" fill="#111" stroke="#111" stroke-width="0.25" text-anchor="start" textLength="252.5" lengthAdjust="spacingAndGlyphs">Understanding Trade-offs</text>
<line x1="384" y1="830" x2="384" y2="906" stroke="#8a8f96" stroke-width="1.5"/>
<text x="138.8" y="850.2" font-size="16.3" font-weight="bold" fill="#111" stroke="#111" stroke-width="0.25" text-anchor="start" textLength="160.8" lengthAdjust="spacingAndGlyphs">PROCESS CYCLE TIME</text>
<text x="138.8" y="870.2" font-size="16.3" font-weight="normal" fill="#111" stroke="#111" stroke-width="0.45" text-anchor="start" textLength="167.2" lengthAdjust="spacingAndGlyphs">Slower than atmospheric.</text>
<text x="138.8" y="887.3" font-size="16.3" font-weight="normal" fill="#111" stroke="#111" stroke-width="0.45" text-anchor="start" textLength="172.2" lengthAdjust="spacingAndGlyphs">Requires pump-down and</text>
<text x="138.8" y="904.2" font-size="16.3" font-weight="normal" fill="#111" stroke="#111" stroke-width="0.45" text-anchor="start" textLength="124.2" lengthAdjust="spacingAndGlyphs">controlled cooling.</text>
<text x="518.5" y="850.2" font-size="16.3" font-weight="bold" fill="#111" stroke="#111" stroke-width="0.25" text-anchor="start" textLength="166.8" lengthAdjust="spacingAndGlyphs">COOLING COMPLEXITY</text>
<text x="518.5" y="870.2" font-size="16.3" font-weight="normal" fill="#111" stroke="#111" stroke-width="0.45" text-anchor="start" textLength="205.5" lengthAdjust="spacingAndGlyphs">Relies on inert gas back-filling.</text>
<text x="518.5" y="887.3" font-size="16.3" font-weight="normal" fill="#111" stroke="#111" stroke-width="0.45" text-anchor="start" textLength="191.5" lengthAdjust="spacingAndGlyphs">Requires precise calibration.</text>
<path d="M36,857 L40,857 M43,857 L53,857 M30,865.8 L49,865.8 M24,874.2 L49,874.2 M36,883 L40,883 M43,883 L53,883" stroke="#1a1a1a" stroke-width="1.6" fill="none"/>
<rect x="79" y="836" width="6.5" height="7" fill="#3e5a80" stroke="#1a1a1a" stroke-width="1"/>
<rect x="74" y="831" width="15.5" height="6.5" rx="1.5" fill="#3e5a80" stroke="#1a1a1a" stroke-width="1.2"/>
<rect x="98.5" y="842.5" width="6" height="6.5" rx="1.5" transform="rotate(40 101.5 845.8)" fill="#3e5a80" stroke="#1a1a1a" stroke-width="1"/>
<circle cx="82" cy="870" r="25" fill="url(#gFace)" stroke="#46628c" stroke-width="6"/>
<circle cx="82" cy="870" r="28" fill="none" stroke="#1a1a1a" stroke-width="1.2"/>
<circle cx="82" cy="870" r="22" fill="none" stroke="#1a1a1a" stroke-width="1.2"/>
<path d="M82,870 L82,848.6 A21.4,21.4 0 0 1 103.4,870 Z" fill="#f0a466"/>
<path d="M82.0,853.5 L82.0,850.5M90.2,855.7 L91.8,853.1M96.3,861.8 L98.9,860.2M98.5,870.0 L101.5,870.0M96.3,878.2 L98.9,879.8M90.2,884.3 L91.8,886.9M82.0,886.5 L82.0,889.5M73.8,884.3 L72.2,886.9M67.7,878.2 L65.1,879.8M65.5,870.0 L62.5,870.0M67.7,861.8 L65.1,860.2M73.8,855.7 L72.2,853.1" stroke="#1a1a1a" stroke-width="1.3" fill="none"/>
<path d="M82,856 L82,870 L99,870" stroke="#1a1a1a" stroke-width="2" fill="none"/>
<path d="M113.6,864.5 L113.6,857.3 L129.1,870 L113.6,882.8 L113.6,874.5" fill="#f0a262" stroke="#3a2a20" stroke-width="1.1" stroke-linejoin="round"/>
<rect x="97" y="864.5" width="17.2" height="10" fill="#f0a262"/>
<rect x="421.2" y="837.5" width="46.6" height="62.5" rx="3.5" fill="#a9a9a9" stroke="#1a1a1a" stroke-width="1.6"/>
<rect x="427" y="843.4" width="35" height="22.2" rx="1" fill="#a7d3de" stroke="#1a1a1a" stroke-width="1.3"/>
<path d="M433,860 A12,12 0 0 1 456,860" fill="none" stroke="#1a1a1a" stroke-width="1.3"/>
<path d="M443,864 L451,853" stroke="#c86a40" stroke-width="2.2" stroke-linecap="round"/>
<rect x="428.5" y="872" width="12.5" height="5" fill="#8fb0c8" stroke="#1a1a1a" stroke-width="1"/>
<rect x="428.5" y="881" width="12.5" height="5" fill="#8fb0c8" stroke="#1a1a1a" stroke-width="1"/>
<rect x="428.5" y="889.5" width="12.5" height="5" fill="#8fb0c8" stroke="#1a1a1a" stroke-width="1"/>
<line x1="450" y1="872" x2="450" y2="894" stroke="#1a1a1a" stroke-width="1.2"/><line x1="459" y1="872" x2="459" y2="894" stroke="#1a1a1a" stroke-width="1.2"/>
<circle cx="450" cy="879.5" r="2.6" fill="#a9a9a9" stroke="#1a1a1a" stroke-width="1.1"/><circle cx="459" cy="884.5" r="2.6" fill="#a9a9a9" stroke="#1a1a1a" stroke-width="1.1"/>
<path d="M468,857 L477,857 C484,857 481,845 487,844.5" fill="none" stroke="#1a1a1a" stroke-width="6.4"/>
<path d="M468,857 L477,857 C484,857 481,845 487,844.5" fill="none" stroke="#6fbfae" stroke-width="4"/>
<path d="M468,880 L477,880 C484,880 481,892 487,892.5" fill="none" stroke="#1a1a1a" stroke-width="6.4"/>
<path d="M468,880 L477,880 C484,880 481,892 487,892.5" fill="none" stroke="#6fbfae" stroke-width="4"/>
<path d="M468,865.6 L493.6,865.6 L493.6,860.6 L505.3,868.5 L493.6,876.6 L493.6,871.6 L468,871.6 Z" fill="#6fbfae" stroke="#1a1a1a" stroke-width="1.2" stroke-linejoin="round"/>
<path d="M495.4,840 L499.2,840 L499.2,844.5 L503.7,844.5 L503.7,848.3 L499.2,848.3 L499.2,852.8 L495.4,852.8 L495.4,848.3 L490.9,848.3 L490.9,844.5 L495.4,844.5 Z" fill="#6fbfae" stroke="#1a1a1a" stroke-width="1.1" stroke-linejoin="round"/>
<rect x="491" y="888.4" width="12.7" height="3.8" fill="#e0764f" stroke="#1a1a1a" stroke-width="0.9"/>
<text x="263.4" y="942.4" font-size="22.5" font-weight="bold" fill="#111" stroke="#111" stroke-width="0.25" text-anchor="start" textLength="240.6" lengthAdjust="spacingAndGlyphs">Making the Right Choice</text>
<circle cx="65.9" cy="1004.6" r="41.5" fill="#3a6596" stroke="#111" stroke-width="2"/>
<circle cx="306.7" cy="1005" r="41.5" fill="#3a6596" stroke="#111" stroke-width="2"/>
<circle cx="558.2" cy="1005" r="41.5" fill="#3a6596" stroke="#111" stroke-width="2"/>
<text x="114.3" y="975.2" font-size="15.2" font-weight="bold" fill="#111" stroke="#111" stroke-width="0.25" text-anchor="start" textLength="68.3" lengthAdjust="spacingAndGlyphs">PRIORITY:</text>
<text x="114.3" y="991.6" font-size="15.2" font-weight="bold" fill="#111" stroke="#111" stroke-width="0.25" text-anchor="start" textLength="116.5" lengthAdjust="spacingAndGlyphs">BOND STRENGTH</text>
<text x="114.3" y="1014.3" font-size="15.4" fill="#111" stroke="#111" stroke-width="0.4" textLength="125.3" lengthAdjust="spacingAndGlyphs"><tspan font-weight="bold" stroke-width="0.25">Strategy:</tspan> Maximize</text>
<text x="114.3" y="1031.1" font-size="15.4" font-weight="normal" fill="#111" stroke="#111" stroke-width="0.45" text-anchor="start" textLength="121.2" lengthAdjust="spacingAndGlyphs">Dwell Time at High</text>
<text x="114.3" y="1047.1" font-size="15.4" font-weight="normal" fill="#111" stroke="#111" stroke-width="0.45" text-anchor="start" textLength="127.7" lengthAdjust="spacingAndGlyphs">Temp (for diffusion)</text>
<text x="355.5" y="975.2" font-size="15.2" font-weight="bold" fill="#111" stroke="#111" stroke-width="0.25" text-anchor="start" textLength="68.3" lengthAdjust="spacingAndGlyphs">PRIORITY:</text>
<text x="355.5" y="991.6" font-size="15.2" font-weight="bold" fill="#111" stroke="#111" stroke-width="0.25" text-anchor="start" textLength="148.4" lengthAdjust="spacingAndGlyphs">MATERIAL HARDNESS</text>
<text x="355.5" y="1014.3" font-size="15.4" fill="#111" stroke="#111" stroke-width="0.4" textLength="122.0" lengthAdjust="spacingAndGlyphs"><tspan font-weight="bold" stroke-width="0.25">Strategy:</tspan> Focus on</text>
<text x="355.5" y="1031.1" font-size="15.4" font-weight="normal" fill="#111" stroke="#111" stroke-width="0.45" text-anchor="start" textLength="140.5" lengthAdjust="spacingAndGlyphs">Precise Cooling Rates</text>
<text x="355.5" y="1047.1" font-size="15.4" font-weight="normal" fill="#111" stroke="#111" stroke-width="0.45" text-anchor="start" textLength="108.5" lengthAdjust="spacingAndGlyphs">(for precipitation)</text>
<text x="607.5" y="975.2" font-size="15.2" font-weight="bold" fill="#111" stroke="#111" stroke-width="0.25" text-anchor="start" textLength="68.3" lengthAdjust="spacingAndGlyphs">PRIORITY:</text>
<text x="607.5" y="991.6" font-size="15.2" font-weight="bold" fill="#111" stroke="#111" stroke-width="0.25" text-anchor="start" textLength="123.7" lengthAdjust="spacingAndGlyphs">SURFACE QUALITY</text>
<text x="607.5" y="1014.3" font-size="15.4" fill="#111" stroke="#111" stroke-width="0.4" textLength="118.5" lengthAdjust="spacingAndGlyphs"><tspan font-weight="bold" stroke-width="0.25">Strategy:</tspan> Maintain</text>
<text x="607.5" y="1031.1" font-size="15.4" font-weight="normal" fill="#111" stroke="#111" stroke-width="0.45" text-anchor="start" textLength="134.2" lengthAdjust="spacingAndGlyphs">Deep Vacuum Levels</text>
<text x="607.5" y="1047.1" font-size="15.4" font-weight="normal" fill="#111" stroke="#111" stroke-width="0.45" text-anchor="start" textLength="120.5" lengthAdjust="spacingAndGlyphs">(prevent oxidation)</text>
<path d="M55,976 C50,982 45,990 43,998 C41,1006 39,1013 39.5,1019.5 C50,1025 68,1026 81.5,1023 L90,1031.5 L90,1000.5 C86,999.8 81,1000.5 77.5,1006.5 C74,1003.5 68,1003 63.5,1005 C60.5,1006.5 58.5,1008.5 57,1011.5 C58,1003 58,994 58.5,986.5 Z" fill="#f4c4a2" stroke="#1a1a1a" stroke-width="1.5" stroke-linejoin="round"/>
<path d="M56.5,977.5 C57,973.5 62,972 67,972.8 C71.5,973.6 73.3,978 72.5,982 C71.8,986 68,988 63.5,987.2 C60.5,987 58,985.5 57,983 Z" fill="#f4c4a2" stroke="#1a1a1a" stroke-width="1.5" stroke-linejoin="round"/>
<path d="M64,980 C66,979 68,980 68.5,981.5 M61.5,983 C63.5,982 65.5,983 66,984.5 M66.5,977.5 C68.5,977 70,978.5 70,980" fill="none" stroke="#1a1a1a" stroke-width="1"/>
<path d="M60.5,1016 C65,1019.5 72,1020 76.5,1018.5 M44.3,1003 C44.5,1006 45,1009.5 45.6,1012" fill="none" stroke="#d18d6a" stroke-width="1.2" stroke-linecap="round"/>
<path d="M287.2,986 L324.7,986 L335.6,1000.8 L306.3,1033.2 L277.8,1000.8 Z" fill="url(#gDia)" stroke="#111" stroke-width="2" stroke-linejoin="round"/>
<path d="M287.2,986 L294.8,1000.8 L306.5,986 L318.25,1000.8 L324.7,986 M277.8,1000.8 L335.6,1000.8 M294.8,1000.8 L306.3,1033.2 L318.25,1000.8" fill="none" stroke="#111" stroke-width="1.8" stroke-linejoin="round"/>
<path d="M318.25,1000.8 L335.6,1000.8 L306.3,1033.2 Z" fill="#7fb6d6" opacity="0.45"/>
<rect x="529.4" y="1006" width="57" height="19.7" fill="url(#gMetal)" stroke="#1a1a1a" stroke-width="1.5"/>
<path d="M558,987.4 Q560.34,998.06 571,1000.4 Q560.34,1002.74 558,1013.4 Q555.66,1002.74 545,1000.4 Q555.66,998.06 558,987.4 Z" fill="#f6d35a" stroke="#111" stroke-width="1.7" stroke-linejoin="round"/>
<path d="M573.5,979 Q574.94,985.56 581.5,987 Q574.94,988.44 573.5,995 Q572.06,988.44 565.5,987 Q572.06,985.56 573.5,979 Z" fill="#f6d35a" stroke="#111" stroke-width="1.7" stroke-linejoin="round"/>
<path d="M541.2,986.6 Q542.1,990.7 546.2,991.6 Q542.1,992.5 541.2,996.6 Q540.3000000000001,992.5 536.2,991.6 Q540.3000000000001,990.7 541.2,986.6 Z" fill="#f6d35a" stroke="#111" stroke-width="1.7" stroke-linejoin="round"/>
<text x="306.8" y="1090.5" font-size="22.5" font-weight="bold" fill="#111" stroke="#111" stroke-width="0.25" text-anchor="start" textLength="153.9" lengthAdjust="spacingAndGlyphs">Summary Table</text>
<rect x="24.2" y="1101.3" width="719.0999999999999" height="25.4" fill="#36639a"/>
<rect x="24.2" y="1126.7" width="719.0999999999999" height="25" fill="#ffffff"/>
<rect x="24.2" y="1151.7" width="719.0999999999999" height="25" fill="#dfe8f2"/>
<rect x="24.2" y="1176.7" width="719.0999999999999" height="25" fill="#ffffff"/>
<rect x="24.2" y="1201.7" width="719.0999999999999" height="25" fill="#dfe8f2"/>
<rect x="24.2" y="1226.7" width="719.0999999999999" height="25" fill="#ffffff"/>
<line x1="24.2" y1="1126.7" x2="743.3" y2="1126.7" stroke="#1a1a1a" stroke-width="1.3"/>
<line x1="24.2" y1="1151.7" x2="743.3" y2="1151.7" stroke="#1a1a1a" stroke-width="1.3"/>
<line x1="24.2" y1="1176.7" x2="743.3" y2="1176.7" stroke="#1a1a1a" stroke-width="1.3"/>
<line x1="24.2" y1="1201.7" x2="743.3" y2="1201.7" stroke="#1a1a1a" stroke-width="1.3"/>
<line x1="24.2" y1="1226.7" x2="743.3" y2="1226.7" stroke="#1a1a1a" stroke-width="1.3"/>
<line x1="255.8" y1="1101.3" x2="255.8" y2="1251.7" stroke="#1a1a1a" stroke-width="1.3"/>
<rect x="24.2" y="1101.3" width="719.0999999999999" height="150.4000000000001" fill="none" stroke="#1a1a1a" stroke-width="1.5"/>
<text x="107.5" y="1120.0" font-size="16" font-weight="bold" fill="#eef6ff" stroke="#eef6ff" stroke-width="0.25" text-anchor="start" textLength="65.5" lengthAdjust="spacingAndGlyphs">FEATURE</text>
<text x="364.9" y="1120.0" font-size="16" font-weight="bold" fill="#eef6ff" stroke="#eef6ff" stroke-width="0.25" text-anchor="start" textLength="267.6" lengthAdjust="spacingAndGlyphs">IMPACT ON IN718-CuCrZr INTERFACE</text>
<text x="67.0" y="1145.1" font-size="15.8" font-weight="bold" fill="#111" stroke="#111" stroke-width="0.25" text-anchor="start" textLength="147.0" lengthAdjust="spacingAndGlyphs">Vacuum Environment</text>
<text x="344.0" y="1145.1" font-size="15.8" font-weight="normal" fill="#111" stroke="#111" stroke-width="0.45" text-anchor="start" textLength="308.4" lengthAdjust="spacingAndGlyphs">Prevents CuCrZr oxidation &amp; surface damage.</text>
<text x="86.7" y="1170.1" font-size="15.8" font-weight="bold" fill="#111" stroke="#111" stroke-width="0.25" text-anchor="start" textLength="107.5" lengthAdjust="spacingAndGlyphs">Thermal Energy</text>
<text x="328.9" y="1170.1" font-size="15.8" font-weight="normal" fill="#111" stroke="#111" stroke-width="0.45" text-anchor="start" textLength="337.9" lengthAdjust="spacingAndGlyphs">Promotes atomic diffusion for metallurgical bond.</text>
<text x="96.3" y="1195.1" font-size="15.8" font-weight="bold" fill="#111" stroke="#111" stroke-width="0.25" text-anchor="start" textLength="87.5" lengthAdjust="spacingAndGlyphs">Stress Relief</text>
<text x="334.1" y="1195.1" font-size="15.8" font-weight="normal" fill="#111" stroke="#111" stroke-width="0.45" text-anchor="start" textLength="327.5" lengthAdjust="spacingAndGlyphs">Eliminates tension from mismatched expansion.</text>
<text x="96.3" y="1220.1" font-size="15.8" font-weight="bold" fill="#111" stroke="#111" stroke-width="0.25" text-anchor="start" textLength="87.5" lengthAdjust="spacingAndGlyphs">Precipitation</text>
<text x="323.2" y="1220.1" font-size="15.8" font-weight="normal" fill="#111" stroke="#111" stroke-width="0.45" text-anchor="start" textLength="349.3" lengthAdjust="spacingAndGlyphs">Optimizes material hardness &amp; strength via cooling.</text>
<text x="80.8" y="1245.1" font-size="15.8" font-weight="bold" fill="#111" stroke="#111" stroke-width="0.25" text-anchor="start" textLength="119.6" lengthAdjust="spacingAndGlyphs">Grain Refinement</text>
<text x="316.4" y="1245.1" font-size="15.8" font-weight="normal" fill="#111" stroke="#111" stroke-width="0.45" text-anchor="start" textLength="362.9" lengthAdjust="spacingAndGlyphs">Reorganizes microstructure for uniform performance.</text>
<text x="26.0" y="1293.8" font-size="19.6" font-weight="bold" fill="#f2f7fc" stroke="#f2f7fc" stroke-width="0.25" text-anchor="start" textLength="510.0" lengthAdjust="spacingAndGlyphs">Optimize Your Bimetallic Material Performance with KINTEK.</text>
<text x="26.0" y="1315.8" font-size="18.2" font-weight="normal" fill="#f2f7fc" stroke="#f2f7fc" stroke-width="0.45" text-anchor="start" textLength="716.0" lengthAdjust="spacingAndGlyphs">High-precision thermal solutions for complex heat treatment challenges, including IN718-CuCrZr</text>
<text x="26.0" y="1335.8" font-size="18.2" font-weight="normal" fill="#f2f7fc" stroke="#f2f7fc" stroke-width="0.45" text-anchor="start" textLength="512.0" lengthAdjust="spacingAndGlyphs">interfaces. Contact our engineering team today for custom solutions.</text>
<text x="314.0" y="1368.0" font-size="18" font-weight="normal" fill="#f2f7fc" stroke="#f2f7fc" stroke-width="0.45" text-anchor="start" textLength="139.5" lengthAdjust="spacingAndGlyphs">kintekfurnace.com</text>
<path d="M662.5,1340 L739.5,1340 L744,1327.5" fill="none" stroke="#ffffff" stroke-width="1.3"/>
<path d="M664,1325.6 L742.3,1325.6 L738.3,1338.6 L661,1338.6 Z" fill="#d9232b" stroke="#d9232b" stroke-width="0.8" stroke-linejoin="round"/>
<text x="669" y="1335.9" font-size="10.6" font-weight="bold" font-style="italic" fill="#ffffff" textLength="63" lengthAdjust="spacing">KINTEK</text>
</svg>
</body></html>
